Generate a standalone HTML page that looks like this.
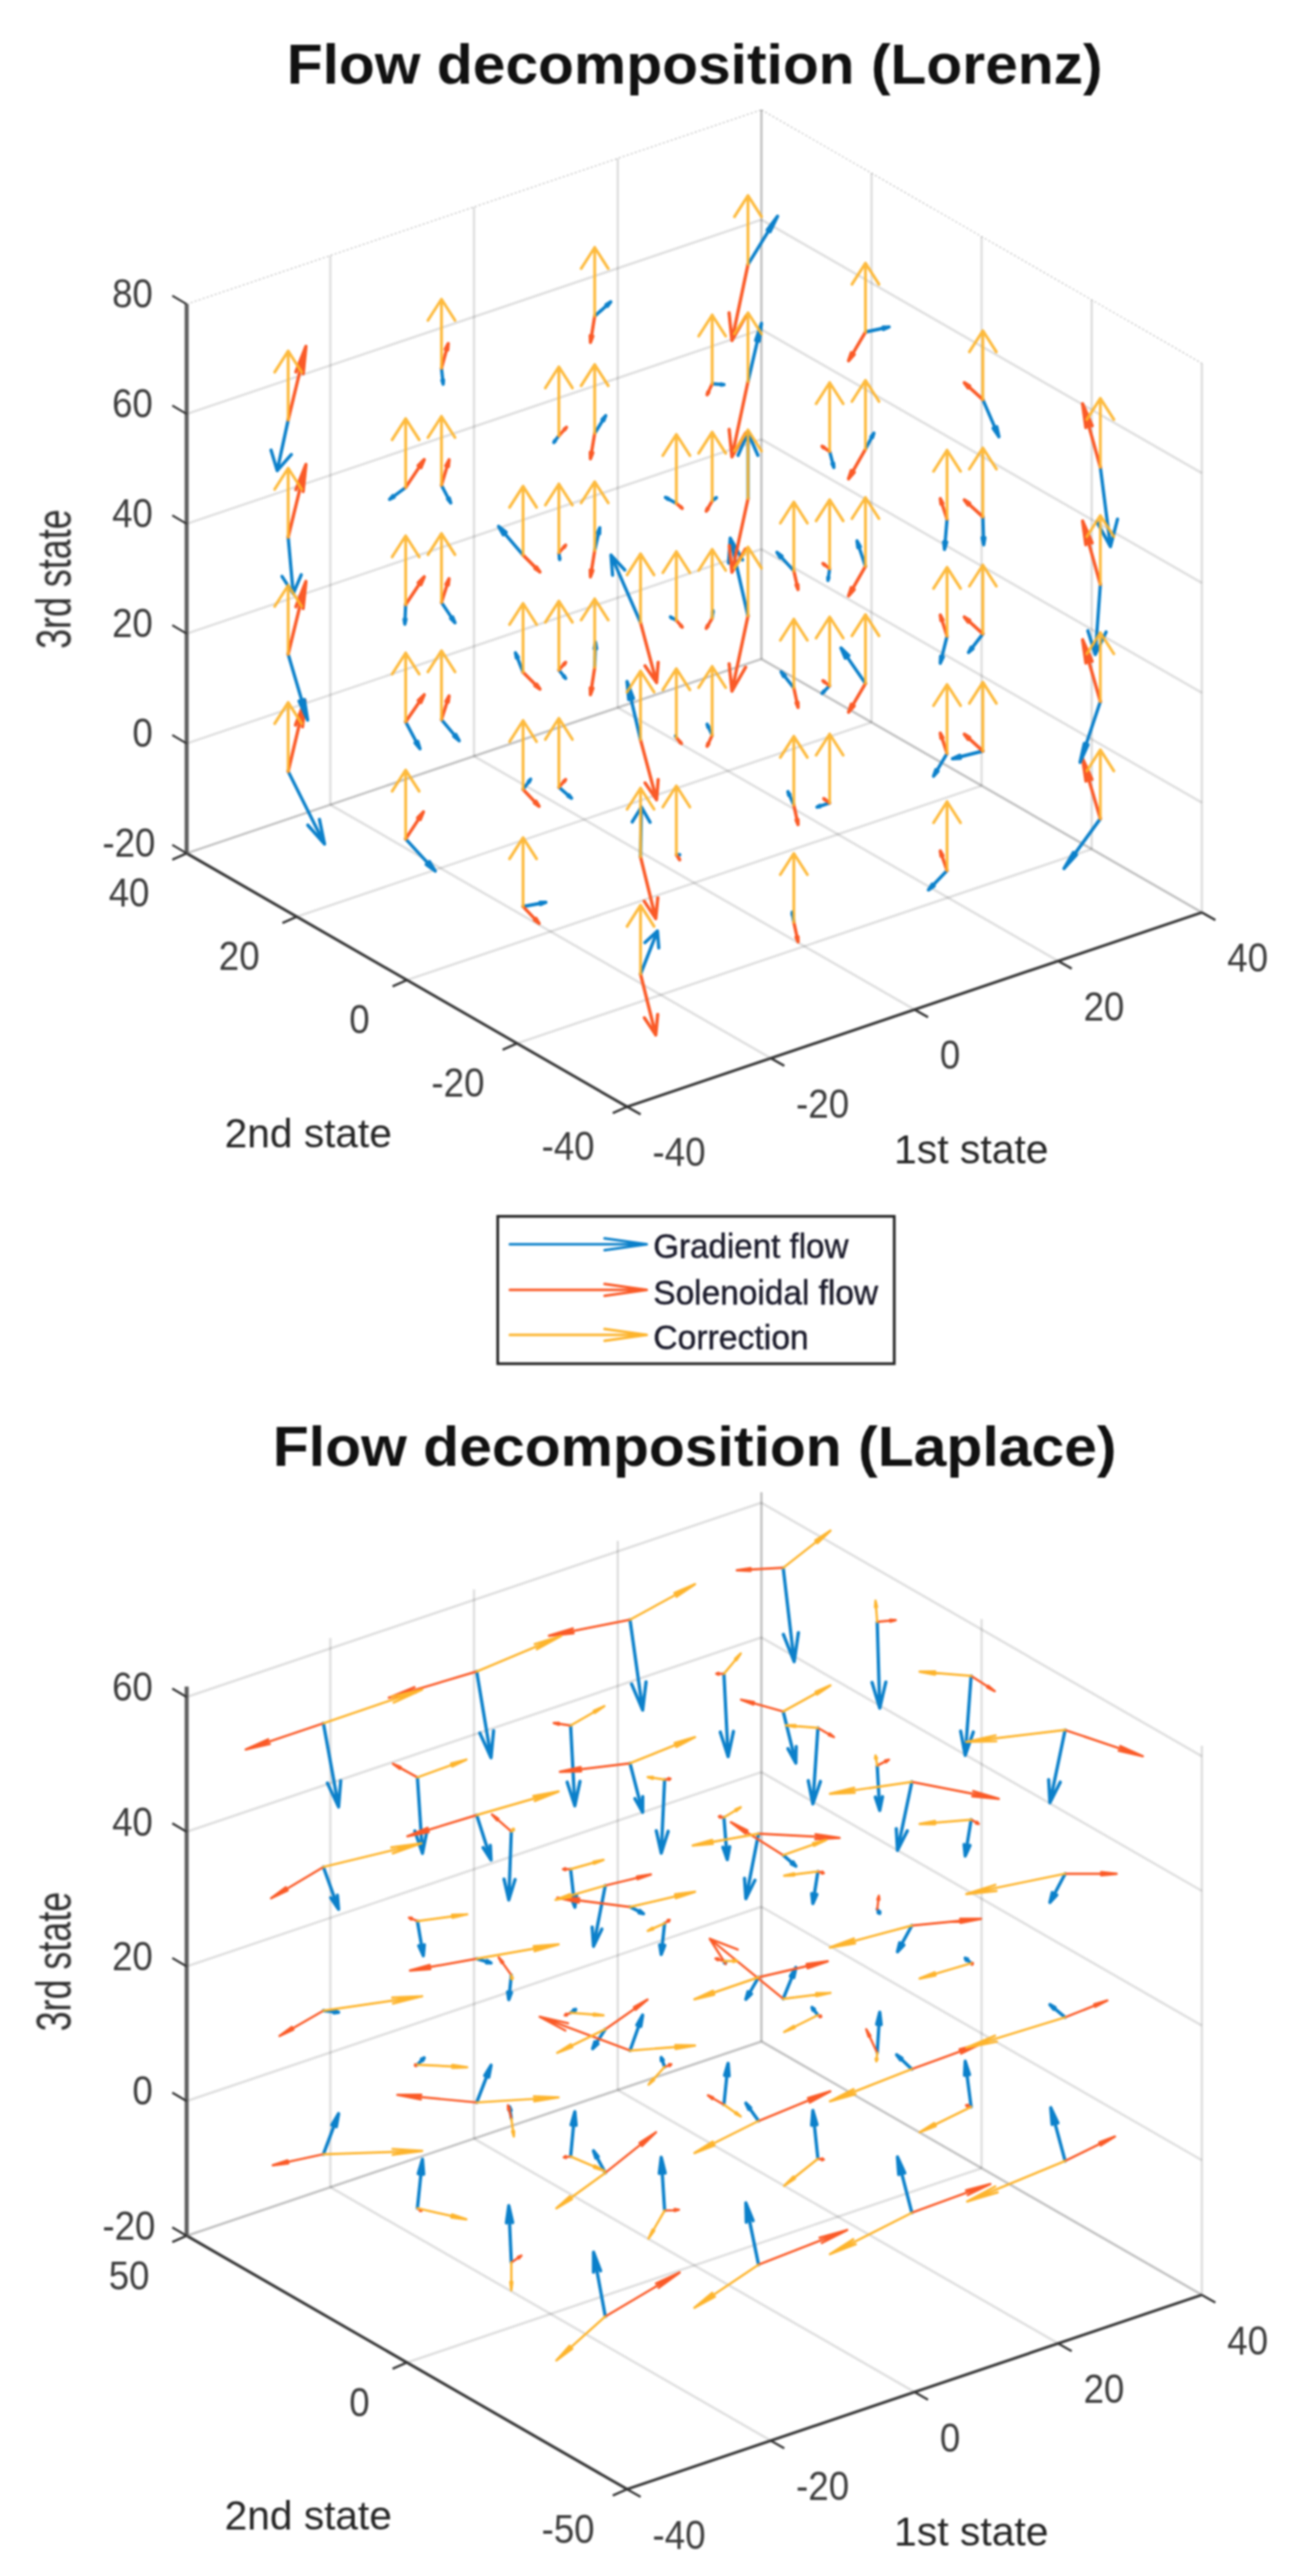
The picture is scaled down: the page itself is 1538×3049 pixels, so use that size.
<!DOCTYPE html><html><head><meta charset="utf-8"><title>Flow decomposition</title><style>html,body{margin:0;padding:0;background:#fff}svg{display:block}text{font-family:"Liberation Sans",Arial,sans-serif}</style></head><body>
<svg width="1538" height="3049" viewBox="0 0 1538 3049">
<rect width="1538" height="3049" fill="#fff"/>
<defs><filter id="soft" x="0" y="0" width="100%" height="100%" filterUnits="userSpaceOnUse" color-interpolation-filters="sRGB"><feGaussianBlur stdDeviation="0.9"/></filter></defs>
<g filter="url(#soft)">
<g id="plot1">
<line x1="742.5" y1="1310.0" x2="221.0" y2="1010.0" stroke="#000" stroke-width="2.8" stroke-opacity="0.13"/>
<line x1="912.6" y1="1252.5" x2="391.1" y2="952.5" stroke="#000" stroke-width="2.8" stroke-opacity="0.13"/>
<line x1="391.1" y1="952.5" x2="391.1" y2="302.5" stroke="#000" stroke-width="2.8" stroke-opacity="0.13"/>
<line x1="1082.8" y1="1195.0" x2="561.2" y2="895.0" stroke="#000" stroke-width="2.8" stroke-opacity="0.13"/>
<line x1="561.2" y1="895.0" x2="561.2" y2="245.0" stroke="#000" stroke-width="2.8" stroke-opacity="0.13"/>
<line x1="1252.9" y1="1137.5" x2="731.4" y2="837.5" stroke="#000" stroke-width="2.8" stroke-opacity="0.13"/>
<line x1="731.4" y1="837.5" x2="731.4" y2="187.5" stroke="#000" stroke-width="2.8" stroke-opacity="0.13"/>
<line x1="1423.0" y1="1080.0" x2="901.5" y2="780.0" stroke="#000" stroke-width="2.8" stroke-opacity="0.13"/>
<line x1="901.5" y1="780.0" x2="901.5" y2="130.0" stroke="#000" stroke-width="2.8" stroke-opacity="0.13"/>
<line x1="742.5" y1="1310.0" x2="1423.0" y2="1080.0" stroke="#000" stroke-width="2.8" stroke-opacity="0.13"/>
<line x1="1423.0" y1="1080.0" x2="1423.0" y2="430.0" stroke="#000" stroke-width="2.8" stroke-opacity="0.13"/>
<line x1="612.1" y1="1235.0" x2="1292.6" y2="1005.0" stroke="#000" stroke-width="2.8" stroke-opacity="0.13"/>
<line x1="1292.6" y1="1005.0" x2="1292.6" y2="355.0" stroke="#000" stroke-width="2.8" stroke-opacity="0.13"/>
<line x1="481.8" y1="1160.0" x2="1162.2" y2="930.0" stroke="#000" stroke-width="2.8" stroke-opacity="0.13"/>
<line x1="1162.2" y1="930.0" x2="1162.2" y2="280.0" stroke="#000" stroke-width="2.8" stroke-opacity="0.13"/>
<line x1="351.4" y1="1085.0" x2="1031.9" y2="855.0" stroke="#000" stroke-width="2.8" stroke-opacity="0.13"/>
<line x1="1031.9" y1="855.0" x2="1031.9" y2="205.0" stroke="#000" stroke-width="2.8" stroke-opacity="0.13"/>
<line x1="221.0" y1="1010.0" x2="901.5" y2="780.0" stroke="#000" stroke-width="2.8" stroke-opacity="0.13"/>
<line x1="901.5" y1="780.0" x2="901.5" y2="130.0" stroke="#000" stroke-width="2.8" stroke-opacity="0.13"/>
<line x1="221.0" y1="1010.0" x2="901.5" y2="780.0" stroke="#000" stroke-width="2.8" stroke-opacity="0.13"/>
<line x1="901.5" y1="780.0" x2="1423.0" y2="1080.0" stroke="#000" stroke-width="2.8" stroke-opacity="0.13"/>
<line x1="221.0" y1="880.0" x2="901.5" y2="650.0" stroke="#000" stroke-width="2.8" stroke-opacity="0.13"/>
<line x1="901.5" y1="650.0" x2="1423.0" y2="950.0" stroke="#000" stroke-width="2.8" stroke-opacity="0.13"/>
<line x1="221.0" y1="750.0" x2="901.5" y2="520.0" stroke="#000" stroke-width="2.8" stroke-opacity="0.13"/>
<line x1="901.5" y1="520.0" x2="1423.0" y2="820.0" stroke="#000" stroke-width="2.8" stroke-opacity="0.13"/>
<line x1="221.0" y1="620.0" x2="901.5" y2="390.0" stroke="#000" stroke-width="2.8" stroke-opacity="0.13"/>
<line x1="901.5" y1="390.0" x2="1423.0" y2="690.0" stroke="#000" stroke-width="2.8" stroke-opacity="0.13"/>
<line x1="221.0" y1="490.0" x2="901.5" y2="260.0" stroke="#000" stroke-width="2.8" stroke-opacity="0.13"/>
<line x1="901.5" y1="260.0" x2="1423.0" y2="560.0" stroke="#000" stroke-width="2.8" stroke-opacity="0.13"/>
<line x1="221.0" y1="360.0" x2="901.5" y2="130.0" stroke="#000" stroke-width="1.6" stroke-opacity="0.2" stroke-dasharray="2.5 2.5"/>
<line x1="901.5" y1="130.0" x2="1423.0" y2="430.0" stroke="#000" stroke-width="1.6" stroke-opacity="0.2" stroke-dasharray="2.5 2.5"/>
<polyline points="221.0,1010.0 742.5,1310.0 1423.0,1080.0" fill="none" stroke="#383838" stroke-width="3.3" stroke-linejoin="miter"/>
<line x1="221.0" y1="1011.0" x2="221.0" y2="360.0" stroke="#5e5e5e" stroke-width="4.8" />
<line x1="221.0" y1="1010.0" x2="204.0" y2="1000.0" stroke="#333" stroke-width="2.6" />
<text transform="translate(184.0,1014.4) scale(0.915,1)" font-size="47.5" text-anchor="end" fill="#3c3c3c">-20</text>
<line x1="221.0" y1="880.0" x2="204.0" y2="870.0" stroke="#333" stroke-width="2.6" />
<text transform="translate(181.0,884.4) scale(0.915,1)" font-size="47.5" text-anchor="end" fill="#3c3c3c">0</text>
<line x1="221.0" y1="750.0" x2="204.0" y2="740.0" stroke="#333" stroke-width="2.6" />
<text transform="translate(181.0,754.4) scale(0.915,1)" font-size="47.5" text-anchor="end" fill="#3c3c3c">20</text>
<line x1="221.0" y1="620.0" x2="204.0" y2="610.0" stroke="#333" stroke-width="2.6" />
<text transform="translate(181.0,624.4) scale(0.915,1)" font-size="47.5" text-anchor="end" fill="#3c3c3c">40</text>
<line x1="221.0" y1="490.0" x2="204.0" y2="480.0" stroke="#333" stroke-width="2.6" />
<text transform="translate(181.0,494.4) scale(0.915,1)" font-size="47.5" text-anchor="end" fill="#3c3c3c">60</text>
<line x1="221.0" y1="360.0" x2="204.0" y2="350.0" stroke="#333" stroke-width="2.6" />
<text transform="translate(181.0,364.4) scale(0.915,1)" font-size="47.5" text-anchor="end" fill="#3c3c3c">80</text>
<line x1="742.5" y1="1310.0" x2="725.5" y2="1317.5" stroke="#333" stroke-width="2.6" />
<text transform="translate(704.0,1373.3) scale(0.915,1)" font-size="47.5" text-anchor="end" fill="#3c3c3c">-40</text>
<line x1="612.1" y1="1235.0" x2="595.1" y2="1242.5" stroke="#333" stroke-width="2.6" />
<text transform="translate(573.6,1298.3) scale(0.915,1)" font-size="47.5" text-anchor="end" fill="#3c3c3c">-20</text>
<line x1="481.8" y1="1160.0" x2="464.8" y2="1167.5" stroke="#333" stroke-width="2.6" />
<text transform="translate(437.8,1223.3) scale(0.915,1)" font-size="47.5" text-anchor="end" fill="#3c3c3c">0</text>
<line x1="351.4" y1="1085.0" x2="334.4" y2="1092.5" stroke="#333" stroke-width="2.6" />
<text transform="translate(307.4,1148.3) scale(0.915,1)" font-size="47.5" text-anchor="end" fill="#3c3c3c">20</text>
<line x1="221.0" y1="1010.0" x2="204.0" y2="1017.5" stroke="#333" stroke-width="2.6" />
<text transform="translate(177.0,1073.3) scale(0.915,1)" font-size="47.5" text-anchor="end" fill="#3c3c3c">40</text>
<line x1="742.5" y1="1310.0" x2="758.5" y2="1319.0" stroke="#333" stroke-width="2.6" />
<text transform="translate(772.5,1380.3) scale(0.915,1)" font-size="47.5" text-anchor="start" fill="#3c3c3c">-40</text>
<line x1="912.6" y1="1252.5" x2="928.6" y2="1261.5" stroke="#333" stroke-width="2.6" />
<text transform="translate(942.6,1322.8) scale(0.915,1)" font-size="47.5" text-anchor="start" fill="#3c3c3c">-20</text>
<line x1="1082.8" y1="1195.0" x2="1098.8" y2="1204.0" stroke="#333" stroke-width="2.6" />
<text transform="translate(1112.8,1265.3) scale(0.915,1)" font-size="47.5" text-anchor="start" fill="#3c3c3c">0</text>
<line x1="1252.9" y1="1137.5" x2="1268.9" y2="1146.5" stroke="#333" stroke-width="2.6" />
<text transform="translate(1282.9,1207.8) scale(0.915,1)" font-size="47.5" text-anchor="start" fill="#3c3c3c">20</text>
<line x1="1423.0" y1="1080.0" x2="1439.0" y2="1089.0" stroke="#333" stroke-width="2.6" />
<text transform="translate(1453.0,1150.3) scale(0.915,1)" font-size="47.5" text-anchor="start" fill="#3c3c3c">40</text>
<text transform="translate(83.5,685.5) rotate(-90)" font-size="58" text-anchor="middle" fill="#2e2e2e" textLength="165" lengthAdjust="spacingAndGlyphs">3rd state</text>
<text x="266.0" y="1358.0" font-size="49" text-anchor="start" font-weight="normal" fill="#262626" textLength="198" lengthAdjust="spacingAndGlyphs">2nd state</text>
<text x="1058.5" y="1376.5" font-size="49" text-anchor="start" font-weight="normal" fill="#262626" textLength="183" lengthAdjust="spacingAndGlyphs">1st state</text>
<text x="822.5" y="98.8" font-size="67" text-anchor="middle" font-weight="bold" fill="#111" textLength="966" lengthAdjust="spacingAndGlyphs">Flow decomposition (Lorenz)</text>
<path d="M758.4 1153.0L778.4 1102.0M780.0 1122.0L778.4 1102.0L763.6 1115.6" stroke="#0b80ca" stroke-width="3.9" fill="none" stroke-linecap="round" stroke-linejoin="round" stroke-opacity="1"/>
<path d="M758.4 1153.0L776.4 1225.0M762.9 1204.7L776.4 1225.0L778.7 1200.7" stroke="#fa5a27" stroke-width="3.9" fill="none" stroke-linecap="round" stroke-linejoin="round" stroke-opacity="1"/>
<path d="M758.4 1014.3L759.4 955.3M769.7 973.2L759.4 955.3L748.5 972.9" stroke="#0b80ca" stroke-width="3.9" fill="none" stroke-linecap="round" stroke-linejoin="round" stroke-opacity="1"/>
<path d="M758.4 1014.3L776.4 1087.3M762.8 1066.7L776.4 1087.3L778.8 1062.7" stroke="#fa5a27" stroke-width="3.9" fill="none" stroke-linecap="round" stroke-linejoin="round" stroke-opacity="1"/>
<path d="M758.4 875.7L742.4 806.7M750.0 826.7L742.4 806.7L744.4 828.0" stroke="#0b80ca" stroke-width="3.9" fill="none" stroke-linecap="round" stroke-linejoin="round" stroke-opacity="1"/>
<path d="M758.4 875.7L777.4 946.7M763.7 926.7L777.4 946.7L779.3 922.6" stroke="#fa5a27" stroke-width="3.9" fill="none" stroke-linecap="round" stroke-linejoin="round" stroke-opacity="1"/>
<path d="M758.4 737.0L723.4 657.0M739.7 674.6L723.4 657.0L725.3 680.9" stroke="#0b80ca" stroke-width="3.9" fill="none" stroke-linecap="round" stroke-linejoin="round" stroke-opacity="1"/>
<path d="M758.4 737.0L777.4 808.0M763.7 788.1L777.4 808.0L779.3 783.9" stroke="#fa5a27" stroke-width="3.9" fill="none" stroke-linecap="round" stroke-linejoin="round" stroke-opacity="1"/>
<path d="M619.3 1073.0L646.3 1068.0M639.8 1070.6L646.3 1068.0L639.3 1067.9" stroke="#0b80ca" stroke-width="3.9" fill="none" stroke-linecap="round" stroke-linejoin="round" stroke-opacity="1"/>
<path d="M619.3 1073.0L638.3 1093.0M632.6 1089.0L638.3 1093.0L634.6 1087.0" stroke="#fa5a27" stroke-width="3.9" fill="none" stroke-linecap="round" stroke-linejoin="round" stroke-opacity="1"/>
<path d="M619.3 934.3L628.3 922.3M626.7 925.8L628.3 922.3L625.5 924.9" stroke="#0b80ca" stroke-width="3.9" fill="none" stroke-linecap="round" stroke-linejoin="round" stroke-opacity="1"/>
<path d="M619.3 934.3L638.3 954.3M632.6 950.3L638.3 954.3L634.6 948.4" stroke="#fa5a27" stroke-width="3.9" fill="none" stroke-linecap="round" stroke-linejoin="round" stroke-opacity="1"/>
<path d="M619.3 795.7L610.3 772.7M613.7 778.0L610.3 772.7L611.4 778.9" stroke="#0b80ca" stroke-width="3.9" fill="none" stroke-linecap="round" stroke-linejoin="round" stroke-opacity="1"/>
<path d="M619.3 795.7L639.3 815.7M633.3 811.7L639.3 815.7L635.3 809.7" stroke="#fa5a27" stroke-width="3.9" fill="none" stroke-linecap="round" stroke-linejoin="round" stroke-opacity="1"/>
<path d="M619.3 657.0L590.3 623.0M599.3 630.0L590.3 623.0L595.9 633.0" stroke="#0b80ca" stroke-width="3.9" fill="none" stroke-linecap="round" stroke-linejoin="round" stroke-opacity="1"/>
<path d="M619.3 657.0L639.3 677.0M633.3 673.0L639.3 677.0L635.3 671.0" stroke="#fa5a27" stroke-width="3.9" fill="none" stroke-linecap="round" stroke-linejoin="round" stroke-opacity="1"/>
<path d="M480.3 993.0L515.3 1031.0M504.6 1023.2L515.3 1031.0L508.4 1019.8" stroke="#0b80ca" stroke-width="3.9" fill="none" stroke-linecap="round" stroke-linejoin="round" stroke-opacity="1"/>
<path d="M480.3 993.0L501.3 961.0M497.6 970.0L501.3 961.0L494.4 968.0" stroke="#fa5a27" stroke-width="3.9" fill="none" stroke-linecap="round" stroke-linejoin="round" stroke-opacity="1"/>
<path d="M480.3 854.3L497.3 886.3M491.4 879.2L497.3 886.3L494.6 877.5" stroke="#0b80ca" stroke-width="3.9" fill="none" stroke-linecap="round" stroke-linejoin="round" stroke-opacity="1"/>
<path d="M480.3 854.3L502.3 822.3M498.4 831.4L502.3 822.3L495.2 829.2" stroke="#fa5a27" stroke-width="3.9" fill="none" stroke-linecap="round" stroke-linejoin="round" stroke-opacity="1"/>
<path d="M480.3 715.7L479.3 738.7M478.4 732.9L479.3 738.7L480.7 733.0" stroke="#0b80ca" stroke-width="3.9" fill="none" stroke-linecap="round" stroke-linejoin="round" stroke-opacity="1"/>
<path d="M480.3 715.7L502.3 682.7M498.4 692.0L502.3 682.7L495.1 689.8" stroke="#fa5a27" stroke-width="3.9" fill="none" stroke-linecap="round" stroke-linejoin="round" stroke-opacity="1"/>
<path d="M480.3 577.0L461.3 591.0M465.3 586.5L461.3 591.0L466.7 588.5" stroke="#0b80ca" stroke-width="3.9" fill="none" stroke-linecap="round" stroke-linejoin="round" stroke-opacity="1"/>
<path d="M480.3 577.0L502.3 544.0M498.4 553.4L502.3 544.0L495.1 551.1" stroke="#fa5a27" stroke-width="3.9" fill="none" stroke-linecap="round" stroke-linejoin="round" stroke-opacity="1"/>
<path d="M341.2 913.0L384.2 999.0M364.4 976.6L384.2 999.0L378.2 969.8" stroke="#0b80ca" stroke-width="3.9" fill="none" stroke-linecap="round" stroke-linejoin="round" stroke-opacity="1"/>
<path d="M341.2 913.0L361.2 829.0M358.2 860.2L361.2 829.0L349.8 858.2" stroke="#fa5a27" stroke-width="3.9" fill="none" stroke-linecap="round" stroke-linejoin="round" stroke-opacity="1"/>
<path d="M341.2 774.3L364.2 852.3M354.2 829.9L364.2 852.3L360.4 828.0" stroke="#0b80ca" stroke-width="3.9" fill="none" stroke-linecap="round" stroke-linejoin="round" stroke-opacity="1"/>
<path d="M341.2 774.3L362.2 688.3M358.9 720.3L362.2 688.3L350.3 718.2" stroke="#fa5a27" stroke-width="3.9" fill="none" stroke-linecap="round" stroke-linejoin="round" stroke-opacity="1"/>
<path d="M341.2 635.7L347.2 702.7M333.9 682.2L347.2 702.7L356.7 680.2" stroke="#0b80ca" stroke-width="3.9" fill="none" stroke-linecap="round" stroke-linejoin="round" stroke-opacity="1"/>
<path d="M341.2 635.7L362.2 549.7M358.9 581.7L362.2 549.7L350.3 579.6" stroke="#fa5a27" stroke-width="3.9" fill="none" stroke-linecap="round" stroke-linejoin="round" stroke-opacity="1"/>
<path d="M341.2 497.0L328.2 557.0M320.9 532.8L328.2 557.0L344.9 538.0" stroke="#0b80ca" stroke-width="3.9" fill="none" stroke-linecap="round" stroke-linejoin="round" stroke-opacity="1"/>
<path d="M341.2 497.0L362.2 410.0M359.0 442.4L362.2 410.0L350.3 440.3" stroke="#fa5a27" stroke-width="3.9" fill="none" stroke-linecap="round" stroke-linejoin="round" stroke-opacity="1"/>
<path d="M939.9 1091.7L937.9 1079.7M939.0 1082.6L937.9 1079.7L937.8 1082.8" stroke="#0b80ca" stroke-width="3.9" fill="none" stroke-linecap="round" stroke-linejoin="round" stroke-opacity="1"/>
<path d="M939.9 1091.7L944.9 1114.7M942.5 1109.2L944.9 1114.7L944.8 1108.7" stroke="#fa5a27" stroke-width="3.9" fill="none" stroke-linecap="round" stroke-linejoin="round" stroke-opacity="1"/>
<path d="M939.9 953.0L932.9 937.0M935.4 940.7L932.9 937.0L933.8 941.4" stroke="#0b80ca" stroke-width="3.9" fill="none" stroke-linecap="round" stroke-linejoin="round" stroke-opacity="1"/>
<path d="M939.9 953.0L944.9 976.0M942.5 970.5L944.9 976.0L944.8 970.0" stroke="#fa5a27" stroke-width="3.9" fill="none" stroke-linecap="round" stroke-linejoin="round" stroke-opacity="1"/>
<path d="M939.9 814.3L924.9 795.3M929.6 799.3L924.9 795.3L927.7 800.8" stroke="#0b80ca" stroke-width="3.9" fill="none" stroke-linecap="round" stroke-linejoin="round" stroke-opacity="1"/>
<path d="M939.9 814.3L944.9 837.3M942.5 831.8L944.9 837.3L944.8 831.3" stroke="#fa5a27" stroke-width="3.9" fill="none" stroke-linecap="round" stroke-linejoin="round" stroke-opacity="1"/>
<path d="M939.9 675.7L919.9 653.7M926.0 658.2L919.9 653.7L923.8 660.2" stroke="#0b80ca" stroke-width="3.9" fill="none" stroke-linecap="round" stroke-linejoin="round" stroke-opacity="1"/>
<path d="M939.9 675.7L944.9 697.7M942.5 692.4L944.9 697.7L944.7 691.9" stroke="#fa5a27" stroke-width="3.9" fill="none" stroke-linecap="round" stroke-linejoin="round" stroke-opacity="1"/>
<path d="M800.8 1011.7L804.8 1011.7M803.8 1011.9L804.8 1011.7L803.8 1011.5" stroke="#0b80ca" stroke-width="3.9" fill="none" stroke-linecap="round" stroke-linejoin="round" stroke-opacity="1"/>
<path d="M800.8 1011.7L804.8 1017.7M803.5 1016.4L804.8 1017.7L804.1 1016.0" stroke="#fa5a27" stroke-width="3.9" fill="none" stroke-linecap="round" stroke-linejoin="round" stroke-opacity="1"/>
<path d="M800.8 873.0L799.8 871.0M800.1 871.5L799.8 871.0L799.9 871.6" stroke="#0b80ca" stroke-width="3.9" fill="none" stroke-linecap="round" stroke-linejoin="round" stroke-opacity="1"/>
<path d="M800.8 873.0L806.8 880.0M804.9 878.6L806.8 880.0L805.6 878.0" stroke="#fa5a27" stroke-width="3.9" fill="none" stroke-linecap="round" stroke-linejoin="round" stroke-opacity="1"/>
<path d="M800.8 734.3L793.8 730.3M795.8 731.0L793.8 730.3L795.3 731.7" stroke="#0b80ca" stroke-width="3.9" fill="none" stroke-linecap="round" stroke-linejoin="round" stroke-opacity="1"/>
<path d="M800.8 734.3L807.8 742.3M805.6 740.7L807.8 742.3L806.4 740.0" stroke="#fa5a27" stroke-width="3.9" fill="none" stroke-linecap="round" stroke-linejoin="round" stroke-opacity="1"/>
<path d="M800.8 595.7L787.8 588.7M791.4 589.8L787.8 588.7L790.7 591.1" stroke="#0b80ca" stroke-width="3.9" fill="none" stroke-linecap="round" stroke-linejoin="round" stroke-opacity="1"/>
<path d="M800.8 595.7L807.8 601.7M805.8 600.5L807.8 601.7L806.3 599.8" stroke="#fa5a27" stroke-width="3.9" fill="none" stroke-linecap="round" stroke-linejoin="round" stroke-opacity="1"/>
<path d="M661.7 931.7L676.7 944.7M672.3 942.2L676.7 944.7L673.6 940.7" stroke="#0b80ca" stroke-width="3.9" fill="none" stroke-linecap="round" stroke-linejoin="round" stroke-opacity="1"/>
<path d="M661.7 931.7L669.7 922.7M668.2 925.3L669.7 922.7L667.3 924.5" stroke="#fa5a27" stroke-width="3.9" fill="none" stroke-linecap="round" stroke-linejoin="round" stroke-opacity="1"/>
<path d="M661.7 793.0L669.7 803.0M667.2 800.9L669.7 803.0L668.2 800.1" stroke="#0b80ca" stroke-width="3.9" fill="none" stroke-linecap="round" stroke-linejoin="round" stroke-opacity="1"/>
<path d="M661.7 793.0L669.7 784.0M668.2 786.7L669.7 784.0L667.3 785.9" stroke="#fa5a27" stroke-width="3.9" fill="none" stroke-linecap="round" stroke-linejoin="round" stroke-opacity="1"/>
<path d="M661.7 654.3L662.7 662.3M662.1 660.4L662.7 662.3L662.9 660.3" stroke="#0b80ca" stroke-width="3.9" fill="none" stroke-linecap="round" stroke-linejoin="round" stroke-opacity="1"/>
<path d="M661.7 654.3L669.7 645.3M668.2 648.0L669.7 645.3L667.3 647.2" stroke="#fa5a27" stroke-width="3.9" fill="none" stroke-linecap="round" stroke-linejoin="round" stroke-opacity="1"/>
<path d="M661.7 515.7L655.7 523.7M656.8 521.4L655.7 523.7L657.6 522.0" stroke="#0b80ca" stroke-width="3.9" fill="none" stroke-linecap="round" stroke-linejoin="round" stroke-opacity="1"/>
<path d="M661.7 515.7L670.7 505.7M669.0 508.6L670.7 505.7L668.0 507.7" stroke="#fa5a27" stroke-width="3.9" fill="none" stroke-linecap="round" stroke-linejoin="round" stroke-opacity="1"/>
<path d="M522.7 851.7L543.7 876.7M537.2 871.5L543.7 876.7L539.7 869.4" stroke="#0b80ca" stroke-width="3.9" fill="none" stroke-linecap="round" stroke-linejoin="round" stroke-opacity="1"/>
<path d="M522.7 851.7L531.7 823.7M530.8 831.1L531.7 823.7L528.0 830.2" stroke="#fa5a27" stroke-width="3.9" fill="none" stroke-linecap="round" stroke-linejoin="round" stroke-opacity="1"/>
<path d="M522.7 713.0L538.7 737.0M533.5 731.8L538.7 737.0L535.9 730.2" stroke="#0b80ca" stroke-width="3.9" fill="none" stroke-linecap="round" stroke-linejoin="round" stroke-opacity="1"/>
<path d="M522.7 713.0L531.7 685.0M530.8 692.5L531.7 685.0L528.0 691.6" stroke="#fa5a27" stroke-width="3.9" fill="none" stroke-linecap="round" stroke-linejoin="round" stroke-opacity="1"/>
<path d="M522.7 574.3L533.7 595.3M529.9 590.6L533.7 595.3L532.0 589.5" stroke="#0b80ca" stroke-width="3.9" fill="none" stroke-linecap="round" stroke-linejoin="round" stroke-opacity="1"/>
<path d="M522.7 574.3L531.7 544.3M530.9 552.3L531.7 544.3L527.9 551.4" stroke="#fa5a27" stroke-width="3.9" fill="none" stroke-linecap="round" stroke-linejoin="round" stroke-opacity="1"/>
<path d="M522.7 435.7L524.7 454.7M523.2 450.0L524.7 454.7L525.1 449.8" stroke="#0b80ca" stroke-width="3.9" fill="none" stroke-linecap="round" stroke-linejoin="round" stroke-opacity="1"/>
<path d="M522.7 435.7L530.7 406.7M530.1 414.3L530.7 406.7L527.2 413.5" stroke="#fa5a27" stroke-width="3.9" fill="none" stroke-linecap="round" stroke-linejoin="round" stroke-opacity="1"/>
<path d="M1121.3 1030.3L1099.3 1053.3M1103.7 1046.5L1099.3 1053.3L1106.0 1048.7" stroke="#0b80ca" stroke-width="3.9" fill="none" stroke-linecap="round" stroke-linejoin="round" stroke-opacity="1"/>
<path d="M1121.3 1030.3L1113.3 1007.3M1116.5 1012.7L1113.3 1007.3L1114.2 1013.5" stroke="#fa5a27" stroke-width="3.9" fill="none" stroke-linecap="round" stroke-linejoin="round" stroke-opacity="1"/>
<path d="M1121.3 891.7L1105.3 918.7M1108.0 911.1L1105.3 918.7L1110.7 912.7" stroke="#0b80ca" stroke-width="3.9" fill="none" stroke-linecap="round" stroke-linejoin="round" stroke-opacity="1"/>
<path d="M1121.3 891.7L1113.3 867.7M1116.5 873.3L1113.3 867.7L1114.1 874.1" stroke="#fa5a27" stroke-width="3.9" fill="none" stroke-linecap="round" stroke-linejoin="round" stroke-opacity="1"/>
<path d="M1121.3 753.0L1113.3 785.0M1113.7 776.6L1113.3 785.0L1116.9 777.4" stroke="#0b80ca" stroke-width="3.9" fill="none" stroke-linecap="round" stroke-linejoin="round" stroke-opacity="1"/>
<path d="M1121.3 753.0L1113.3 728.0M1116.6 733.9L1113.3 728.0L1114.1 734.6" stroke="#fa5a27" stroke-width="3.9" fill="none" stroke-linecap="round" stroke-linejoin="round" stroke-opacity="1"/>
<path d="M1121.3 614.3L1118.3 650.3M1117.3 641.2L1118.3 650.3L1120.9 641.5" stroke="#0b80ca" stroke-width="3.9" fill="none" stroke-linecap="round" stroke-linejoin="round" stroke-opacity="1"/>
<path d="M1121.3 614.3L1113.3 590.3M1116.5 595.9L1113.3 590.3L1114.1 596.7" stroke="#fa5a27" stroke-width="3.9" fill="none" stroke-linecap="round" stroke-linejoin="round" stroke-opacity="1"/>
<path d="M982.3 950.3L967.3 955.3M970.8 953.3L967.3 955.3L971.3 954.8" stroke="#0b80ca" stroke-width="3.9" fill="none" stroke-linecap="round" stroke-linejoin="round" stroke-opacity="1"/>
<path d="M982.3 950.3L975.3 945.3M977.3 946.2L975.3 945.3L976.8 946.9" stroke="#fa5a27" stroke-width="3.9" fill="none" stroke-linecap="round" stroke-linejoin="round" stroke-opacity="1"/>
<path d="M982.3 811.7L973.3 820.7M975.1 818.0L973.3 820.7L976.0 818.9" stroke="#0b80ca" stroke-width="3.9" fill="none" stroke-linecap="round" stroke-linejoin="round" stroke-opacity="1"/>
<path d="M982.3 811.7L974.3 805.7M976.6 806.8L974.3 805.7L976.0 807.6" stroke="#fa5a27" stroke-width="3.9" fill="none" stroke-linecap="round" stroke-linejoin="round" stroke-opacity="1"/>
<path d="M982.3 673.0L980.3 687.0M980.1 683.4L980.3 687.0L981.5 683.6" stroke="#0b80ca" stroke-width="3.9" fill="none" stroke-linecap="round" stroke-linejoin="round" stroke-opacity="1"/>
<path d="M982.3 673.0L974.3 667.0M976.6 668.1L974.3 667.0L976.0 668.9" stroke="#fa5a27" stroke-width="3.9" fill="none" stroke-linecap="round" stroke-linejoin="round" stroke-opacity="1"/>
<path d="M982.3 534.3L987.3 553.3M985.1 548.8L987.3 553.3L987.0 548.3" stroke="#0b80ca" stroke-width="3.9" fill="none" stroke-linecap="round" stroke-linejoin="round" stroke-opacity="1"/>
<path d="M982.3 534.3L973.3 528.3M975.8 529.4L973.3 528.3L975.2 530.3" stroke="#fa5a27" stroke-width="3.9" fill="none" stroke-linecap="round" stroke-linejoin="round" stroke-opacity="1"/>
<path d="M843.2 870.3L837.2 857.3M839.4 860.3L837.2 857.3L838.1 860.9" stroke="#0b80ca" stroke-width="3.9" fill="none" stroke-linecap="round" stroke-linejoin="round" stroke-opacity="1"/>
<path d="M843.2 870.3L837.2 883.3M838.1 879.8L837.2 883.3L839.4 880.4" stroke="#fa5a27" stroke-width="3.9" fill="none" stroke-linecap="round" stroke-linejoin="round" stroke-opacity="1"/>
<path d="M843.2 731.7L844.2 722.7M844.4 725.0L844.2 722.7L843.5 724.9" stroke="#0b80ca" stroke-width="3.9" fill="none" stroke-linecap="round" stroke-linejoin="round" stroke-opacity="1"/>
<path d="M843.2 731.7L836.2 743.7M837.4 740.3L836.2 743.7L838.6 741.0" stroke="#fa5a27" stroke-width="3.9" fill="none" stroke-linecap="round" stroke-linejoin="round" stroke-opacity="1"/>
<path d="M843.2 593.0L848.2 589.0M847.2 590.2L848.2 589.0L846.8 589.8" stroke="#0b80ca" stroke-width="3.9" fill="none" stroke-linecap="round" stroke-linejoin="round" stroke-opacity="1"/>
<path d="M843.2 593.0L836.2 605.0M837.4 601.6L836.2 605.0L838.6 602.4" stroke="#fa5a27" stroke-width="3.9" fill="none" stroke-linecap="round" stroke-linejoin="round" stroke-opacity="1"/>
<path d="M843.2 454.3L857.2 455.3M853.7 455.8L857.2 455.3L853.8 454.4" stroke="#0b80ca" stroke-width="3.9" fill="none" stroke-linecap="round" stroke-linejoin="round" stroke-opacity="1"/>
<path d="M843.2 454.3L837.2 467.3M838.1 463.8L837.2 467.3L839.4 464.4" stroke="#fa5a27" stroke-width="3.9" fill="none" stroke-linecap="round" stroke-linejoin="round" stroke-opacity="1"/>
<path d="M704.1 790.3L705.1 760.3M706.4 767.9L705.1 760.3L703.4 767.8" stroke="#0b80ca" stroke-width="3.9" fill="none" stroke-linecap="round" stroke-linejoin="round" stroke-opacity="1"/>
<path d="M704.1 790.3L699.1 822.3M698.8 814.1L699.1 822.3L702.0 814.6" stroke="#fa5a27" stroke-width="3.9" fill="none" stroke-linecap="round" stroke-linejoin="round" stroke-opacity="1"/>
<path d="M704.1 651.7L710.1 624.7M710.0 631.7L710.1 624.7L707.3 631.1" stroke="#0b80ca" stroke-width="3.9" fill="none" stroke-linecap="round" stroke-linejoin="round" stroke-opacity="1"/>
<path d="M704.1 651.7L699.1 682.7M698.8 674.7L699.1 682.7L701.9 675.2" stroke="#fa5a27" stroke-width="3.9" fill="none" stroke-linecap="round" stroke-linejoin="round" stroke-opacity="1"/>
<path d="M704.1 513.0L717.1 492.0M714.9 497.9L717.1 492.0L712.8 496.6" stroke="#0b80ca" stroke-width="3.9" fill="none" stroke-linecap="round" stroke-linejoin="round" stroke-opacity="1"/>
<path d="M704.1 513.0L699.1 543.0M698.9 535.2L699.1 543.0L701.9 535.8" stroke="#fa5a27" stroke-width="3.9" fill="none" stroke-linecap="round" stroke-linejoin="round" stroke-opacity="1"/>
<path d="M704.1 374.3L723.1 357.3M719.2 362.5L723.1 357.3L717.5 360.6" stroke="#0b80ca" stroke-width="3.9" fill="none" stroke-linecap="round" stroke-linejoin="round" stroke-opacity="1"/>
<path d="M704.1 374.3L699.1 405.3M698.8 397.3L699.1 405.3L701.9 397.8" stroke="#fa5a27" stroke-width="3.9" fill="none" stroke-linecap="round" stroke-linejoin="round" stroke-opacity="1"/>
<path d="M1302.8 969.0L1259.8 1028.0M1270.9 1009.0L1259.8 1028.0L1274.5 1011.6" stroke="#0b80ca" stroke-width="3.9" fill="none" stroke-linecap="round" stroke-linejoin="round" stroke-opacity="1"/>
<path d="M1302.8 969.0L1281.8 898.0M1292.9 922.5L1281.8 898.0L1285.8 924.6" stroke="#fa5a27" stroke-width="3.9" fill="none" stroke-linecap="round" stroke-linejoin="round" stroke-opacity="1"/>
<path d="M1302.8 830.3L1278.8 902.3M1283.8 880.0L1278.8 902.3L1288.2 881.5" stroke="#0b80ca" stroke-width="3.9" fill="none" stroke-linecap="round" stroke-linejoin="round" stroke-opacity="1"/>
<path d="M1302.8 830.3L1281.8 757.3M1293.0 782.6L1281.8 757.3L1285.7 784.7" stroke="#fa5a27" stroke-width="3.9" fill="none" stroke-linecap="round" stroke-linejoin="round" stroke-opacity="1"/>
<path d="M1302.8 691.7L1296.8 774.7M1288.0 746.5L1296.8 774.7L1309.6 748.1" stroke="#0b80ca" stroke-width="3.9" fill="none" stroke-linecap="round" stroke-linejoin="round" stroke-opacity="1"/>
<path d="M1302.8 691.7L1281.8 616.7M1293.1 642.6L1281.8 616.7L1285.6 644.7" stroke="#fa5a27" stroke-width="3.9" fill="none" stroke-linecap="round" stroke-linejoin="round" stroke-opacity="1"/>
<path d="M1302.8 553.0L1314.8 647.0M1298.6 617.5L1314.8 647.0L1323.1 614.4" stroke="#0b80ca" stroke-width="3.9" fill="none" stroke-linecap="round" stroke-linejoin="round" stroke-opacity="1"/>
<path d="M1302.8 553.0L1281.8 478.0M1293.1 503.9L1281.8 478.0L1285.6 506.1" stroke="#fa5a27" stroke-width="3.9" fill="none" stroke-linecap="round" stroke-linejoin="round" stroke-opacity="1"/>
<path d="M1163.7 889.0L1127.7 898.0M1136.3 894.0L1127.7 898.0L1137.2 897.5" stroke="#0b80ca" stroke-width="3.9" fill="none" stroke-linecap="round" stroke-linejoin="round" stroke-opacity="1"/>
<path d="M1163.7 889.0L1141.7 869.0M1148.2 872.9L1141.7 869.0L1146.2 875.1" stroke="#fa5a27" stroke-width="3.9" fill="none" stroke-linecap="round" stroke-linejoin="round" stroke-opacity="1"/>
<path d="M1163.7 750.3L1146.7 772.3M1149.9 766.0L1146.7 772.3L1152.1 767.7" stroke="#0b80ca" stroke-width="3.9" fill="none" stroke-linecap="round" stroke-linejoin="round" stroke-opacity="1"/>
<path d="M1163.7 750.3L1141.7 730.3M1148.2 734.2L1141.7 730.3L1146.2 736.4" stroke="#fa5a27" stroke-width="3.9" fill="none" stroke-linecap="round" stroke-linejoin="round" stroke-opacity="1"/>
<path d="M1163.7 611.7L1164.7 644.7M1162.8 636.5L1164.7 644.7L1166.1 636.4" stroke="#0b80ca" stroke-width="3.9" fill="none" stroke-linecap="round" stroke-linejoin="round" stroke-opacity="1"/>
<path d="M1163.7 611.7L1141.7 591.7M1148.2 595.6L1141.7 591.7L1146.2 597.8" stroke="#fa5a27" stroke-width="3.9" fill="none" stroke-linecap="round" stroke-linejoin="round" stroke-opacity="1"/>
<path d="M1163.7 473.0L1182.7 517.0M1175.8 506.9L1182.7 517.0L1180.2 505.1" stroke="#0b80ca" stroke-width="3.9" fill="none" stroke-linecap="round" stroke-linejoin="round" stroke-opacity="1"/>
<path d="M1163.7 473.0L1141.7 453.0M1148.2 456.9L1141.7 453.0L1146.2 459.1" stroke="#fa5a27" stroke-width="3.9" fill="none" stroke-linecap="round" stroke-linejoin="round" stroke-opacity="1"/>
<path d="M1024.7 809.0L995.7 767.0M1005.0 776.0L995.7 767.0L1000.8 779.0" stroke="#0b80ca" stroke-width="3.9" fill="none" stroke-linecap="round" stroke-linejoin="round" stroke-opacity="1"/>
<path d="M1024.7 809.0L1004.7 843.0M1008.0 833.5L1004.7 843.0L1011.4 835.5" stroke="#fa5a27" stroke-width="3.9" fill="none" stroke-linecap="round" stroke-linejoin="round" stroke-opacity="1"/>
<path d="M1024.7 670.3L1014.7 640.3M1018.7 647.3L1014.7 640.3L1015.7 648.3" stroke="#0b80ca" stroke-width="3.9" fill="none" stroke-linecap="round" stroke-linejoin="round" stroke-opacity="1"/>
<path d="M1024.7 670.3L1004.7 705.3M1007.9 695.6L1004.7 705.3L1011.4 697.6" stroke="#fa5a27" stroke-width="3.9" fill="none" stroke-linecap="round" stroke-linejoin="round" stroke-opacity="1"/>
<path d="M1024.7 531.7L1034.7 512.7M1033.1 517.9L1034.7 512.7L1031.2 516.9" stroke="#0b80ca" stroke-width="3.9" fill="none" stroke-linecap="round" stroke-linejoin="round" stroke-opacity="1"/>
<path d="M1024.7 531.7L1004.7 566.7M1007.9 556.9L1004.7 566.7L1011.4 558.9" stroke="#fa5a27" stroke-width="3.9" fill="none" stroke-linecap="round" stroke-linejoin="round" stroke-opacity="1"/>
<path d="M1024.7 393.0L1052.7 387.0M1046.0 389.9L1052.7 387.0L1045.4 387.1" stroke="#0b80ca" stroke-width="3.9" fill="none" stroke-linecap="round" stroke-linejoin="round" stroke-opacity="1"/>
<path d="M1024.7 393.0L1004.7 427.0M1008.0 417.5L1004.7 427.0L1011.4 419.5" stroke="#fa5a27" stroke-width="3.9" fill="none" stroke-linecap="round" stroke-linejoin="round" stroke-opacity="1"/>
<path d="M885.6 729.0L864.6 637.0M879.2 662.7L864.6 637.0L862.6 666.5" stroke="#0b80ca" stroke-width="3.9" fill="none" stroke-linecap="round" stroke-linejoin="round" stroke-opacity="1"/>
<path d="M885.6 729.0L866.6 818.0M863.3 785.6L866.6 818.0L882.8 789.8" stroke="#fa5a27" stroke-width="3.9" fill="none" stroke-linecap="round" stroke-linejoin="round" stroke-opacity="1"/>
<path d="M885.6 590.3L885.6 512.3M897.3 538.9L885.6 512.3L873.9 538.9" stroke="#0b80ca" stroke-width="3.9" fill="none" stroke-linecap="round" stroke-linejoin="round" stroke-opacity="1"/>
<path d="M885.6 590.3L866.6 677.3M863.5 645.7L866.6 677.3L882.6 649.8" stroke="#fa5a27" stroke-width="3.9" fill="none" stroke-linecap="round" stroke-linejoin="round" stroke-opacity="1"/>
<path d="M885.6 451.7L901.6 382.7M898.9 403.8L901.6 382.7L894.7 402.9" stroke="#0b80ca" stroke-width="3.9" fill="none" stroke-linecap="round" stroke-linejoin="round" stroke-opacity="1"/>
<path d="M885.6 451.7L866.6 540.7M863.3 508.3L866.6 540.7L882.8 512.5" stroke="#fa5a27" stroke-width="3.9" fill="none" stroke-linecap="round" stroke-linejoin="round" stroke-opacity="1"/>
<path d="M885.6 313.0L920.6 256.0M911.8 274.2L920.6 256.0L908.4 272.1" stroke="#0b80ca" stroke-width="3.9" fill="none" stroke-linecap="round" stroke-linejoin="round" stroke-opacity="1"/>
<path d="M885.6 313.0L866.6 403.0M863.2 370.3L866.6 403.0L883.0 374.5" stroke="#fa5a27" stroke-width="3.9" fill="none" stroke-linecap="round" stroke-linejoin="round" stroke-opacity="1"/>
<path d="M758.4 1153.0L758.4 1071.5M774.4 1096.5L758.4 1071.5L742.4 1096.5" stroke="#fdb42c" stroke-width="3.4" fill="none" stroke-linecap="round" stroke-linejoin="round" stroke-opacity="0.92"/>
<path d="M758.4 1014.3L758.4 932.8M774.4 957.8L758.4 932.8L742.4 957.8" stroke="#fdb42c" stroke-width="3.4" fill="none" stroke-linecap="round" stroke-linejoin="round" stroke-opacity="0.92"/>
<path d="M758.4 875.7L758.4 794.2M774.4 819.2L758.4 794.2L742.4 819.2" stroke="#fdb42c" stroke-width="3.4" fill="none" stroke-linecap="round" stroke-linejoin="round" stroke-opacity="0.92"/>
<path d="M758.4 737.0L758.4 655.5M774.4 680.5L758.4 655.5L742.4 680.5" stroke="#fdb42c" stroke-width="3.4" fill="none" stroke-linecap="round" stroke-linejoin="round" stroke-opacity="0.92"/>
<path d="M619.3 1073.0L619.3 991.5M635.3 1016.5L619.3 991.5L603.3 1016.5" stroke="#fdb42c" stroke-width="3.4" fill="none" stroke-linecap="round" stroke-linejoin="round" stroke-opacity="0.92"/>
<path d="M619.3 934.3L619.3 852.8M635.3 877.8L619.3 852.8L603.3 877.8" stroke="#fdb42c" stroke-width="3.4" fill="none" stroke-linecap="round" stroke-linejoin="round" stroke-opacity="0.92"/>
<path d="M619.3 795.7L619.3 714.2M635.3 739.2L619.3 714.2L603.3 739.2" stroke="#fdb42c" stroke-width="3.4" fill="none" stroke-linecap="round" stroke-linejoin="round" stroke-opacity="0.92"/>
<path d="M619.3 657.0L619.3 575.5M635.3 600.5L619.3 575.5L603.3 600.5" stroke="#fdb42c" stroke-width="3.4" fill="none" stroke-linecap="round" stroke-linejoin="round" stroke-opacity="0.92"/>
<path d="M480.3 993.0L480.3 911.5M496.3 936.5L480.3 911.5L464.3 936.5" stroke="#fdb42c" stroke-width="3.4" fill="none" stroke-linecap="round" stroke-linejoin="round" stroke-opacity="0.92"/>
<path d="M480.3 854.3L480.3 772.8M496.3 797.8L480.3 772.8L464.3 797.8" stroke="#fdb42c" stroke-width="3.4" fill="none" stroke-linecap="round" stroke-linejoin="round" stroke-opacity="0.92"/>
<path d="M480.3 715.7L480.3 634.2M496.3 659.2L480.3 634.2L464.3 659.2" stroke="#fdb42c" stroke-width="3.4" fill="none" stroke-linecap="round" stroke-linejoin="round" stroke-opacity="0.92"/>
<path d="M480.3 577.0L480.3 495.5M496.3 520.5L480.3 495.5L464.3 520.5" stroke="#fdb42c" stroke-width="3.4" fill="none" stroke-linecap="round" stroke-linejoin="round" stroke-opacity="0.92"/>
<path d="M341.2 913.0L341.2 831.5M357.2 856.5L341.2 831.5L325.2 856.5" stroke="#fdb42c" stroke-width="3.4" fill="none" stroke-linecap="round" stroke-linejoin="round" stroke-opacity="0.92"/>
<path d="M341.2 774.3L341.2 692.8M357.2 717.8L341.2 692.8L325.2 717.8" stroke="#fdb42c" stroke-width="3.4" fill="none" stroke-linecap="round" stroke-linejoin="round" stroke-opacity="0.92"/>
<path d="M341.2 635.7L341.2 554.2M357.2 579.2L341.2 554.2L325.2 579.2" stroke="#fdb42c" stroke-width="3.4" fill="none" stroke-linecap="round" stroke-linejoin="round" stroke-opacity="0.92"/>
<path d="M341.2 497.0L341.2 415.5M357.2 440.5L341.2 415.5L325.2 440.5" stroke="#fdb42c" stroke-width="3.4" fill="none" stroke-linecap="round" stroke-linejoin="round" stroke-opacity="0.92"/>
<path d="M939.9 1091.7L939.9 1010.2M955.9 1035.2L939.9 1010.2L923.9 1035.2" stroke="#fdb42c" stroke-width="3.4" fill="none" stroke-linecap="round" stroke-linejoin="round" stroke-opacity="0.92"/>
<path d="M939.9 953.0L939.9 871.5M955.9 896.5L939.9 871.5L923.9 896.5" stroke="#fdb42c" stroke-width="3.4" fill="none" stroke-linecap="round" stroke-linejoin="round" stroke-opacity="0.92"/>
<path d="M939.9 814.3L939.9 732.8M955.9 757.8L939.9 732.8L923.9 757.8" stroke="#fdb42c" stroke-width="3.4" fill="none" stroke-linecap="round" stroke-linejoin="round" stroke-opacity="0.92"/>
<path d="M939.9 675.7L939.9 594.2M955.9 619.2L939.9 594.2L923.9 619.2" stroke="#fdb42c" stroke-width="3.4" fill="none" stroke-linecap="round" stroke-linejoin="round" stroke-opacity="0.92"/>
<path d="M800.8 1011.7L800.8 930.2M816.8 955.2L800.8 930.2L784.8 955.2" stroke="#fdb42c" stroke-width="3.4" fill="none" stroke-linecap="round" stroke-linejoin="round" stroke-opacity="0.92"/>
<path d="M800.8 873.0L800.8 791.5M816.8 816.5L800.8 791.5L784.8 816.5" stroke="#fdb42c" stroke-width="3.4" fill="none" stroke-linecap="round" stroke-linejoin="round" stroke-opacity="0.92"/>
<path d="M800.8 734.3L800.8 652.8M816.8 677.8L800.8 652.8L784.8 677.8" stroke="#fdb42c" stroke-width="3.4" fill="none" stroke-linecap="round" stroke-linejoin="round" stroke-opacity="0.92"/>
<path d="M800.8 595.7L800.8 514.2M816.8 539.2L800.8 514.2L784.8 539.2" stroke="#fdb42c" stroke-width="3.4" fill="none" stroke-linecap="round" stroke-linejoin="round" stroke-opacity="0.92"/>
<path d="M661.7 931.7L661.7 850.2M677.7 875.2L661.7 850.2L645.7 875.2" stroke="#fdb42c" stroke-width="3.4" fill="none" stroke-linecap="round" stroke-linejoin="round" stroke-opacity="0.92"/>
<path d="M661.7 793.0L661.7 711.5M677.7 736.5L661.7 711.5L645.7 736.5" stroke="#fdb42c" stroke-width="3.4" fill="none" stroke-linecap="round" stroke-linejoin="round" stroke-opacity="0.92"/>
<path d="M661.7 654.3L661.7 572.8M677.7 597.8L661.7 572.8L645.7 597.8" stroke="#fdb42c" stroke-width="3.4" fill="none" stroke-linecap="round" stroke-linejoin="round" stroke-opacity="0.92"/>
<path d="M661.7 515.7L661.7 434.2M677.7 459.2L661.7 434.2L645.7 459.2" stroke="#fdb42c" stroke-width="3.4" fill="none" stroke-linecap="round" stroke-linejoin="round" stroke-opacity="0.92"/>
<path d="M522.7 851.7L522.7 770.2M538.7 795.2L522.7 770.2L506.7 795.2" stroke="#fdb42c" stroke-width="3.4" fill="none" stroke-linecap="round" stroke-linejoin="round" stroke-opacity="0.92"/>
<path d="M522.7 713.0L522.7 631.5M538.7 656.5L522.7 631.5L506.7 656.5" stroke="#fdb42c" stroke-width="3.4" fill="none" stroke-linecap="round" stroke-linejoin="round" stroke-opacity="0.92"/>
<path d="M522.7 574.3L522.7 492.8M538.7 517.8L522.7 492.8L506.7 517.8" stroke="#fdb42c" stroke-width="3.4" fill="none" stroke-linecap="round" stroke-linejoin="round" stroke-opacity="0.92"/>
<path d="M522.7 435.7L522.7 354.2M538.7 379.2L522.7 354.2L506.7 379.2" stroke="#fdb42c" stroke-width="3.4" fill="none" stroke-linecap="round" stroke-linejoin="round" stroke-opacity="0.92"/>
<path d="M1121.3 1030.3L1121.3 948.8M1137.3 973.8L1121.3 948.8L1105.3 973.8" stroke="#fdb42c" stroke-width="3.4" fill="none" stroke-linecap="round" stroke-linejoin="round" stroke-opacity="0.92"/>
<path d="M1121.3 891.7L1121.3 810.2M1137.3 835.2L1121.3 810.2L1105.3 835.2" stroke="#fdb42c" stroke-width="3.4" fill="none" stroke-linecap="round" stroke-linejoin="round" stroke-opacity="0.92"/>
<path d="M1121.3 753.0L1121.3 671.5M1137.3 696.5L1121.3 671.5L1105.3 696.5" stroke="#fdb42c" stroke-width="3.4" fill="none" stroke-linecap="round" stroke-linejoin="round" stroke-opacity="0.92"/>
<path d="M1121.3 614.3L1121.3 532.8M1137.3 557.8L1121.3 532.8L1105.3 557.8" stroke="#fdb42c" stroke-width="3.4" fill="none" stroke-linecap="round" stroke-linejoin="round" stroke-opacity="0.92"/>
<path d="M982.3 950.3L982.3 868.8M998.3 893.8L982.3 868.8L966.3 893.8" stroke="#fdb42c" stroke-width="3.4" fill="none" stroke-linecap="round" stroke-linejoin="round" stroke-opacity="0.92"/>
<path d="M982.3 811.7L982.3 730.2M998.3 755.2L982.3 730.2L966.3 755.2" stroke="#fdb42c" stroke-width="3.4" fill="none" stroke-linecap="round" stroke-linejoin="round" stroke-opacity="0.92"/>
<path d="M982.3 673.0L982.3 591.5M998.3 616.5L982.3 591.5L966.3 616.5" stroke="#fdb42c" stroke-width="3.4" fill="none" stroke-linecap="round" stroke-linejoin="round" stroke-opacity="0.92"/>
<path d="M982.3 534.3L982.3 452.8M998.3 477.8L982.3 452.8L966.3 477.8" stroke="#fdb42c" stroke-width="3.4" fill="none" stroke-linecap="round" stroke-linejoin="round" stroke-opacity="0.92"/>
<path d="M843.2 870.3L843.2 788.8M859.2 813.8L843.2 788.8L827.2 813.8" stroke="#fdb42c" stroke-width="3.4" fill="none" stroke-linecap="round" stroke-linejoin="round" stroke-opacity="0.92"/>
<path d="M843.2 731.7L843.2 650.2M859.2 675.2L843.2 650.2L827.2 675.2" stroke="#fdb42c" stroke-width="3.4" fill="none" stroke-linecap="round" stroke-linejoin="round" stroke-opacity="0.92"/>
<path d="M843.2 593.0L843.2 511.5M859.2 536.5L843.2 511.5L827.2 536.5" stroke="#fdb42c" stroke-width="3.4" fill="none" stroke-linecap="round" stroke-linejoin="round" stroke-opacity="0.92"/>
<path d="M843.2 454.3L843.2 372.8M859.2 397.8L843.2 372.8L827.2 397.8" stroke="#fdb42c" stroke-width="3.4" fill="none" stroke-linecap="round" stroke-linejoin="round" stroke-opacity="0.92"/>
<path d="M704.1 790.3L704.1 708.8M720.1 733.8L704.1 708.8L688.1 733.8" stroke="#fdb42c" stroke-width="3.4" fill="none" stroke-linecap="round" stroke-linejoin="round" stroke-opacity="0.92"/>
<path d="M704.1 651.7L704.1 570.2M720.1 595.2L704.1 570.2L688.1 595.2" stroke="#fdb42c" stroke-width="3.4" fill="none" stroke-linecap="round" stroke-linejoin="round" stroke-opacity="0.92"/>
<path d="M704.1 513.0L704.1 431.5M720.1 456.5L704.1 431.5L688.1 456.5" stroke="#fdb42c" stroke-width="3.4" fill="none" stroke-linecap="round" stroke-linejoin="round" stroke-opacity="0.92"/>
<path d="M704.1 374.3L704.1 292.8M720.1 317.8L704.1 292.8L688.1 317.8" stroke="#fdb42c" stroke-width="3.4" fill="none" stroke-linecap="round" stroke-linejoin="round" stroke-opacity="0.92"/>
<path d="M1302.8 969.0L1302.8 887.5M1318.8 912.5L1302.8 887.5L1286.8 912.5" stroke="#fdb42c" stroke-width="3.4" fill="none" stroke-linecap="round" stroke-linejoin="round" stroke-opacity="0.92"/>
<path d="M1302.8 830.3L1302.8 748.8M1318.8 773.8L1302.8 748.8L1286.8 773.8" stroke="#fdb42c" stroke-width="3.4" fill="none" stroke-linecap="round" stroke-linejoin="round" stroke-opacity="0.92"/>
<path d="M1302.8 691.7L1302.8 610.2M1318.8 635.2L1302.8 610.2L1286.8 635.2" stroke="#fdb42c" stroke-width="3.4" fill="none" stroke-linecap="round" stroke-linejoin="round" stroke-opacity="0.92"/>
<path d="M1302.8 553.0L1302.8 471.5M1318.8 496.5L1302.8 471.5L1286.8 496.5" stroke="#fdb42c" stroke-width="3.4" fill="none" stroke-linecap="round" stroke-linejoin="round" stroke-opacity="0.92"/>
<path d="M1163.7 889.0L1163.7 807.5M1179.7 832.5L1163.7 807.5L1147.7 832.5" stroke="#fdb42c" stroke-width="3.4" fill="none" stroke-linecap="round" stroke-linejoin="round" stroke-opacity="0.92"/>
<path d="M1163.7 750.3L1163.7 668.8M1179.7 693.8L1163.7 668.8L1147.7 693.8" stroke="#fdb42c" stroke-width="3.4" fill="none" stroke-linecap="round" stroke-linejoin="round" stroke-opacity="0.92"/>
<path d="M1163.7 611.7L1163.7 530.2M1179.7 555.2L1163.7 530.2L1147.7 555.2" stroke="#fdb42c" stroke-width="3.4" fill="none" stroke-linecap="round" stroke-linejoin="round" stroke-opacity="0.92"/>
<path d="M1163.7 473.0L1163.7 391.5M1179.7 416.5L1163.7 391.5L1147.7 416.5" stroke="#fdb42c" stroke-width="3.4" fill="none" stroke-linecap="round" stroke-linejoin="round" stroke-opacity="0.92"/>
<path d="M1024.7 809.0L1024.7 727.5M1040.7 752.5L1024.7 727.5L1008.7 752.5" stroke="#fdb42c" stroke-width="3.4" fill="none" stroke-linecap="round" stroke-linejoin="round" stroke-opacity="0.92"/>
<path d="M1024.7 670.3L1024.7 588.8M1040.7 613.8L1024.7 588.8L1008.7 613.8" stroke="#fdb42c" stroke-width="3.4" fill="none" stroke-linecap="round" stroke-linejoin="round" stroke-opacity="0.92"/>
<path d="M1024.7 531.7L1024.7 450.2M1040.7 475.2L1024.7 450.2L1008.7 475.2" stroke="#fdb42c" stroke-width="3.4" fill="none" stroke-linecap="round" stroke-linejoin="round" stroke-opacity="0.92"/>
<path d="M1024.7 393.0L1024.7 311.5M1040.7 336.5L1024.7 311.5L1008.7 336.5" stroke="#fdb42c" stroke-width="3.4" fill="none" stroke-linecap="round" stroke-linejoin="round" stroke-opacity="0.92"/>
<path d="M885.6 729.0L885.6 647.5M901.6 672.5L885.6 647.5L869.6 672.5" stroke="#fdb42c" stroke-width="3.4" fill="none" stroke-linecap="round" stroke-linejoin="round" stroke-opacity="0.92"/>
<path d="M885.6 590.3L885.6 508.8M901.6 533.8L885.6 508.8L869.6 533.8" stroke="#fdb42c" stroke-width="3.4" fill="none" stroke-linecap="round" stroke-linejoin="round" stroke-opacity="0.92"/>
<path d="M885.6 451.7L885.6 370.2M901.6 395.2L885.6 370.2L869.6 395.2" stroke="#fdb42c" stroke-width="3.4" fill="none" stroke-linecap="round" stroke-linejoin="round" stroke-opacity="0.92"/>
<path d="M885.6 313.0L885.6 231.5M901.6 256.5L885.6 231.5L869.6 256.5" stroke="#fdb42c" stroke-width="3.4" fill="none" stroke-linecap="round" stroke-linejoin="round" stroke-opacity="0.92"/>
</g>
<g id="legend">
<rect x="589.3" y="1439.7" width="469.5" height="174.4" fill="#fff" stroke="#222" stroke-width="3.2"/>
<path d="M603.6 1472.8L765.8 1472.8M715.8 1479.8L765.8 1472.8L715.8 1465.8" stroke="#0b80ca" stroke-width="3.0" fill="none" stroke-linecap="round" stroke-linejoin="round" stroke-opacity="1"/>
<text x="773.5" y="1488.6" font-size="40" text-anchor="start" font-weight="normal" fill="#1a1a2a" textLength="231" lengthAdjust="spacingAndGlyphs" stroke="#1a1a2a" stroke-width="0.5">Gradient flow</text>
<path d="M603.6 1526.8L765.8 1526.8M715.8 1533.8L765.8 1526.8L715.8 1519.8" stroke="#fa5a27" stroke-width="3.0" fill="none" stroke-linecap="round" stroke-linejoin="round" stroke-opacity="1"/>
<text x="773.5" y="1543.5" font-size="40" text-anchor="start" font-weight="normal" fill="#1a1a2a" textLength="266" lengthAdjust="spacingAndGlyphs" stroke="#1a1a2a" stroke-width="0.5">Solenoidal flow</text>
<path d="M603.6 1580.0L765.8 1580.0M715.8 1587.0L765.8 1580.0L715.8 1573.0" stroke="#fdb42c" stroke-width="3.0" fill="none" stroke-linecap="round" stroke-linejoin="round" stroke-opacity="1"/>
<text x="773.5" y="1596.7" font-size="40" text-anchor="start" font-weight="normal" fill="#1a1a2a" textLength="184" lengthAdjust="spacingAndGlyphs" stroke="#1a1a2a" stroke-width="0.5">Correction</text>
</g>
<g id="plot2">
<line x1="742.5" y1="2946.3" x2="221.0" y2="2646.3" stroke="#000" stroke-width="2.8" stroke-opacity="0.13"/>
<line x1="912.6" y1="2888.8" x2="391.1" y2="2588.8" stroke="#000" stroke-width="2.8" stroke-opacity="0.13"/>
<line x1="391.1" y1="2588.8" x2="391.1" y2="1938.8" stroke="#000" stroke-width="2.8" stroke-opacity="0.13"/>
<line x1="1082.8" y1="2831.3" x2="561.2" y2="2531.3" stroke="#000" stroke-width="2.8" stroke-opacity="0.13"/>
<line x1="561.2" y1="2531.3" x2="561.2" y2="1881.3" stroke="#000" stroke-width="2.8" stroke-opacity="0.13"/>
<line x1="1252.9" y1="2773.8" x2="731.4" y2="2473.8" stroke="#000" stroke-width="2.8" stroke-opacity="0.13"/>
<line x1="731.4" y1="2473.8" x2="731.4" y2="1823.8" stroke="#000" stroke-width="2.8" stroke-opacity="0.13"/>
<line x1="1423.0" y1="2716.3" x2="901.5" y2="2416.3" stroke="#000" stroke-width="2.8" stroke-opacity="0.13"/>
<line x1="901.5" y1="2416.3" x2="901.5" y2="1766.3" stroke="#000" stroke-width="2.8" stroke-opacity="0.13"/>
<line x1="742.5" y1="2946.3" x2="1423.0" y2="2716.3" stroke="#000" stroke-width="2.8" stroke-opacity="0.13"/>
<line x1="1423.0" y1="2716.3" x2="1423.0" y2="2066.3" stroke="#000" stroke-width="2.8" stroke-opacity="0.13"/>
<line x1="481.8" y1="2796.3" x2="1162.2" y2="2566.3" stroke="#000" stroke-width="2.8" stroke-opacity="0.13"/>
<line x1="1162.2" y1="2566.3" x2="1162.2" y2="1916.3" stroke="#000" stroke-width="2.8" stroke-opacity="0.13"/>
<line x1="221.0" y1="2646.3" x2="901.5" y2="2416.3" stroke="#000" stroke-width="2.8" stroke-opacity="0.13"/>
<line x1="901.5" y1="2416.3" x2="901.5" y2="1766.3" stroke="#000" stroke-width="2.8" stroke-opacity="0.13"/>
<line x1="221.0" y1="2646.3" x2="901.5" y2="2416.3" stroke="#000" stroke-width="2.8" stroke-opacity="0.13"/>
<line x1="901.5" y1="2416.3" x2="1423.0" y2="2716.3" stroke="#000" stroke-width="2.8" stroke-opacity="0.13"/>
<line x1="221.0" y1="2486.9" x2="901.5" y2="2256.9" stroke="#000" stroke-width="2.8" stroke-opacity="0.13"/>
<line x1="901.5" y1="2256.9" x2="1423.0" y2="2556.9" stroke="#000" stroke-width="2.8" stroke-opacity="0.13"/>
<line x1="221.0" y1="2327.5" x2="901.5" y2="2097.5" stroke="#000" stroke-width="2.8" stroke-opacity="0.13"/>
<line x1="901.5" y1="2097.5" x2="1423.0" y2="2397.5" stroke="#000" stroke-width="2.8" stroke-opacity="0.13"/>
<line x1="221.0" y1="2168.1" x2="901.5" y2="1938.1" stroke="#000" stroke-width="2.8" stroke-opacity="0.13"/>
<line x1="901.5" y1="1938.1" x2="1423.0" y2="2238.1" stroke="#000" stroke-width="2.8" stroke-opacity="0.13"/>
<line x1="221.0" y1="2008.7" x2="901.5" y2="1778.7" stroke="#000" stroke-width="2.8" stroke-opacity="0.13"/>
<line x1="901.5" y1="1778.7" x2="1423.0" y2="2078.7" stroke="#000" stroke-width="2.8" stroke-opacity="0.13"/>
<polyline points="221.0,2646.3 742.5,2946.3 1423.0,2716.3" fill="none" stroke="#383838" stroke-width="3.3" stroke-linejoin="miter"/>
<line x1="221.0" y1="2647.3" x2="221.0" y2="1996.3" stroke="#5e5e5e" stroke-width="4.8" />
<line x1="221.0" y1="2646.3" x2="204.0" y2="2636.3" stroke="#333" stroke-width="2.6" />
<text transform="translate(184.0,2650.7) scale(0.915,1)" font-size="47.5" text-anchor="end" fill="#3c3c3c">-20</text>
<line x1="221.0" y1="2486.9" x2="204.0" y2="2476.9" stroke="#333" stroke-width="2.6" />
<text transform="translate(181.0,2491.3) scale(0.915,1)" font-size="47.5" text-anchor="end" fill="#3c3c3c">0</text>
<line x1="221.0" y1="2327.5" x2="204.0" y2="2317.5" stroke="#333" stroke-width="2.6" />
<text transform="translate(181.0,2331.9) scale(0.915,1)" font-size="47.5" text-anchor="end" fill="#3c3c3c">20</text>
<line x1="221.0" y1="2168.1" x2="204.0" y2="2158.1" stroke="#333" stroke-width="2.6" />
<text transform="translate(181.0,2172.5) scale(0.915,1)" font-size="47.5" text-anchor="end" fill="#3c3c3c">40</text>
<line x1="221.0" y1="2008.7" x2="204.0" y2="1998.7" stroke="#333" stroke-width="2.6" />
<text transform="translate(181.0,2013.1) scale(0.915,1)" font-size="47.5" text-anchor="end" fill="#3c3c3c">60</text>
<line x1="742.5" y1="2946.3" x2="725.5" y2="2953.8" stroke="#333" stroke-width="2.6" />
<text transform="translate(704.0,3009.6) scale(0.915,1)" font-size="47.5" text-anchor="end" fill="#3c3c3c">-50</text>
<line x1="481.8" y1="2796.3" x2="464.8" y2="2803.8" stroke="#333" stroke-width="2.6" />
<text transform="translate(437.8,2859.6) scale(0.915,1)" font-size="47.5" text-anchor="end" fill="#3c3c3c">0</text>
<line x1="221.0" y1="2646.3" x2="204.0" y2="2653.8" stroke="#333" stroke-width="2.6" />
<text transform="translate(177.0,2709.6) scale(0.915,1)" font-size="47.5" text-anchor="end" fill="#3c3c3c">50</text>
<line x1="742.5" y1="2946.3" x2="758.5" y2="2955.3" stroke="#333" stroke-width="2.6" />
<text transform="translate(772.5,3016.6) scale(0.915,1)" font-size="47.5" text-anchor="start" fill="#3c3c3c">-40</text>
<line x1="912.6" y1="2888.8" x2="928.6" y2="2897.8" stroke="#333" stroke-width="2.6" />
<text transform="translate(942.6,2959.1) scale(0.915,1)" font-size="47.5" text-anchor="start" fill="#3c3c3c">-20</text>
<line x1="1082.8" y1="2831.3" x2="1098.8" y2="2840.3" stroke="#333" stroke-width="2.6" />
<text transform="translate(1112.8,2901.6) scale(0.915,1)" font-size="47.5" text-anchor="start" fill="#3c3c3c">0</text>
<line x1="1252.9" y1="2773.8" x2="1268.9" y2="2782.8" stroke="#333" stroke-width="2.6" />
<text transform="translate(1282.9,2844.1) scale(0.915,1)" font-size="47.5" text-anchor="start" fill="#3c3c3c">20</text>
<line x1="1423.0" y1="2716.3" x2="1439.0" y2="2725.3" stroke="#333" stroke-width="2.6" />
<text transform="translate(1453.0,2786.6) scale(0.915,1)" font-size="47.5" text-anchor="start" fill="#3c3c3c">40</text>
<text transform="translate(83.5,2321.8) rotate(-90)" font-size="58" text-anchor="middle" fill="#2e2e2e" textLength="165" lengthAdjust="spacingAndGlyphs">3rd state</text>
<text x="266.0" y="2994.3" font-size="49" text-anchor="start" font-weight="normal" fill="#262626" textLength="198" lengthAdjust="spacingAndGlyphs">2nd state</text>
<text x="1058.5" y="3012.8" font-size="49" text-anchor="start" font-weight="normal" fill="#262626" textLength="183" lengthAdjust="spacingAndGlyphs">1st state</text>
<text x="822.5" y="1735.1" font-size="67" text-anchor="middle" font-weight="bold" fill="#111" textLength="999" lengthAdjust="spacingAndGlyphs">Flow decomposition (Laplace)</text>
<path d="M382.9 2039.7L400.9 2138.7M387.6 2110.5L400.9 2138.7L403.4 2107.6" stroke="#0b80ca" stroke-width="3.9" fill="none" stroke-linecap="round" stroke-linejoin="round" stroke-opacity="1"/>
<path d="M382.9 2209.8L400.9 2259.8M391.5 2246.2L400.9 2259.8L399.5 2243.3" stroke="#0b80ca" stroke-width="3.9" fill="none" stroke-linecap="round" stroke-linejoin="round" stroke-opacity="1"/>
<path d="M382.9 2379.8L400.9 2381.8M395.4 2382.6L400.9 2381.8L395.7 2379.7" stroke="#0b80ca" stroke-width="3.9" fill="none" stroke-linecap="round" stroke-linejoin="round" stroke-opacity="1"/>
<path d="M382.9 2549.8L400.9 2501.8M398.2 2517.2L400.9 2501.8L392.9 2515.2" stroke="#0b80ca" stroke-width="3.9" fill="none" stroke-linecap="round" stroke-linejoin="round" stroke-opacity="1"/>
<path d="M494.2 2103.7L500.2 2193.7M491.2 2167.2L500.2 2193.7L505.6 2166.3" stroke="#0b80ca" stroke-width="3.9" fill="none" stroke-linecap="round" stroke-linejoin="round" stroke-opacity="1"/>
<path d="M494.2 2273.8L501.2 2314.8M495.8 2303.0L501.2 2314.8L502.4 2301.9" stroke="#0b80ca" stroke-width="3.9" fill="none" stroke-linecap="round" stroke-linejoin="round" stroke-opacity="1"/>
<path d="M494.2 2443.8L502.2 2435.8M500.6 2439.0L502.2 2435.8L498.9 2437.3" stroke="#0b80ca" stroke-width="3.9" fill="none" stroke-linecap="round" stroke-linejoin="round" stroke-opacity="1"/>
<path d="M494.2 2613.8L500.2 2555.8M501.6 2573.5L500.2 2555.8L495.2 2572.9" stroke="#0b80ca" stroke-width="3.9" fill="none" stroke-linecap="round" stroke-linejoin="round" stroke-opacity="1"/>
<path d="M605.4 2167.7L602.4 2248.7M596.8 2224.2L602.4 2248.7L609.8 2224.7" stroke="#0b80ca" stroke-width="3.9" fill="none" stroke-linecap="round" stroke-linejoin="round" stroke-opacity="1"/>
<path d="M605.4 2337.8L602.4 2366.8M601.0 2357.8L602.4 2366.8L605.6 2358.3" stroke="#0b80ca" stroke-width="3.9" fill="none" stroke-linecap="round" stroke-linejoin="round" stroke-opacity="1"/>
<path d="M605.4 2507.8L603.4 2493.8M605.2 2497.8L603.4 2493.8L602.8 2498.1" stroke="#0b80ca" stroke-width="3.9" fill="none" stroke-linecap="round" stroke-linejoin="round" stroke-opacity="1"/>
<path d="M605.4 2677.8L602.4 2610.8M607.0 2630.7L602.4 2610.8L599.6 2631.1" stroke="#0b80ca" stroke-width="3.9" fill="none" stroke-linecap="round" stroke-linejoin="round" stroke-opacity="1"/>
<path d="M716.7 2231.7L702.7 2303.7M701.1 2281.0L702.7 2303.7L712.6 2283.3" stroke="#0b80ca" stroke-width="3.9" fill="none" stroke-linecap="round" stroke-linejoin="round" stroke-opacity="1"/>
<path d="M716.7 2401.8L701.7 2424.8M704.3 2416.7L701.7 2424.8L708.0 2419.1" stroke="#0b80ca" stroke-width="3.9" fill="none" stroke-linecap="round" stroke-linejoin="round" stroke-opacity="1"/>
<path d="M716.7 2571.8L702.7 2545.8M708.3 2552.8L702.7 2545.8L705.5 2554.3" stroke="#0b80ca" stroke-width="3.9" fill="none" stroke-linecap="round" stroke-linejoin="round" stroke-opacity="1"/>
<path d="M716.7 2741.8L702.7 2665.8M711.1 2687.8L702.7 2665.8L702.7 2689.4" stroke="#0b80ca" stroke-width="3.9" fill="none" stroke-linecap="round" stroke-linejoin="round" stroke-opacity="1"/>
<path d="M564.4 1978.4L581.4 2080.4M568.1 2051.2L581.4 2080.4L584.4 2048.4" stroke="#0b80ca" stroke-width="3.9" fill="none" stroke-linecap="round" stroke-linejoin="round" stroke-opacity="1"/>
<path d="M564.4 2148.4L581.4 2201.4M572.0 2186.9L581.4 2201.4L580.5 2184.2" stroke="#0b80ca" stroke-width="3.9" fill="none" stroke-linecap="round" stroke-linejoin="round" stroke-opacity="1"/>
<path d="M564.4 2318.4L581.4 2323.4M575.9 2323.3L581.4 2323.4L576.7 2320.6" stroke="#0b80ca" stroke-width="3.9" fill="none" stroke-linecap="round" stroke-linejoin="round" stroke-opacity="1"/>
<path d="M564.4 2488.5L581.4 2444.5M578.7 2458.6L581.4 2444.5L573.9 2456.7" stroke="#0b80ca" stroke-width="3.9" fill="none" stroke-linecap="round" stroke-linejoin="round" stroke-opacity="1"/>
<path d="M675.6 2042.4L680.6 2137.4M671.5 2109.3L680.6 2137.4L686.7 2108.5" stroke="#0b80ca" stroke-width="3.9" fill="none" stroke-linecap="round" stroke-linejoin="round" stroke-opacity="1"/>
<path d="M675.6 2212.4L680.6 2257.4M675.5 2244.3L680.6 2257.4L682.7 2243.5" stroke="#0b80ca" stroke-width="3.9" fill="none" stroke-linecap="round" stroke-linejoin="round" stroke-opacity="1"/>
<path d="M675.6 2382.4L681.6 2378.4M680.5 2380.6L681.6 2378.4L679.2 2378.6" stroke="#0b80ca" stroke-width="3.9" fill="none" stroke-linecap="round" stroke-linejoin="round" stroke-opacity="1"/>
<path d="M675.6 2552.5L680.6 2499.5M682.1 2515.6L680.6 2499.5L676.2 2515.1" stroke="#0b80ca" stroke-width="3.9" fill="none" stroke-linecap="round" stroke-linejoin="round" stroke-opacity="1"/>
<path d="M786.9 2106.4L782.9 2193.4M777.1 2167.0L782.9 2193.4L791.1 2167.6" stroke="#0b80ca" stroke-width="3.9" fill="none" stroke-linecap="round" stroke-linejoin="round" stroke-opacity="1"/>
<path d="M786.9 2276.4L782.9 2313.4M781.1 2302.0L782.9 2313.4L787.1 2302.6" stroke="#0b80ca" stroke-width="3.9" fill="none" stroke-linecap="round" stroke-linejoin="round" stroke-opacity="1"/>
<path d="M786.9 2446.4L782.9 2435.4M785.2 2438.3L782.9 2435.4L783.0 2439.1" stroke="#0b80ca" stroke-width="3.9" fill="none" stroke-linecap="round" stroke-linejoin="round" stroke-opacity="1"/>
<path d="M786.9 2616.5L782.9 2553.5M787.6 2572.1L782.9 2553.5L780.6 2572.6" stroke="#0b80ca" stroke-width="3.9" fill="none" stroke-linecap="round" stroke-linejoin="round" stroke-opacity="1"/>
<path d="M898.1 2170.4L883.1 2247.4M881.5 2223.1L883.1 2247.4L893.8 2225.5" stroke="#0b80ca" stroke-width="3.9" fill="none" stroke-linecap="round" stroke-linejoin="round" stroke-opacity="1"/>
<path d="M898.1 2340.4L883.1 2366.4M885.6 2357.4L883.1 2366.4L889.7 2359.8" stroke="#0b80ca" stroke-width="3.9" fill="none" stroke-linecap="round" stroke-linejoin="round" stroke-opacity="1"/>
<path d="M898.1 2510.4L883.1 2489.4M888.8 2494.9L883.1 2489.4L886.5 2496.6" stroke="#0b80ca" stroke-width="3.9" fill="none" stroke-linecap="round" stroke-linejoin="round" stroke-opacity="1"/>
<path d="M898.1 2680.5L883.1 2607.5M891.7 2628.5L883.1 2607.5L883.6 2630.2" stroke="#0b80ca" stroke-width="3.9" fill="none" stroke-linecap="round" stroke-linejoin="round" stroke-opacity="1"/>
<path d="M745.9 1917.1L760.9 2024.1M747.8 1993.2L760.9 2024.1L764.9 1990.8" stroke="#0b80ca" stroke-width="3.9" fill="none" stroke-linecap="round" stroke-linejoin="round" stroke-opacity="1"/>
<path d="M745.9 2087.1L760.9 2145.1M751.7 2128.9L760.9 2145.1L761.0 2126.5" stroke="#0b80ca" stroke-width="3.9" fill="none" stroke-linecap="round" stroke-linejoin="round" stroke-opacity="1"/>
<path d="M745.9 2257.1L761.9 2265.1M756.4 2264.0L761.9 2265.1L757.7 2261.4" stroke="#0b80ca" stroke-width="3.9" fill="none" stroke-linecap="round" stroke-linejoin="round" stroke-opacity="1"/>
<path d="M745.9 2427.1L760.9 2385.1M758.7 2398.5L760.9 2385.1L754.0 2396.9" stroke="#0b80ca" stroke-width="3.9" fill="none" stroke-linecap="round" stroke-linejoin="round" stroke-opacity="1"/>
<path d="M857.1 1981.1L862.1 2079.1M852.8 2050.1L862.1 2079.1L868.4 2049.3" stroke="#0b80ca" stroke-width="3.9" fill="none" stroke-linecap="round" stroke-linejoin="round" stroke-opacity="1"/>
<path d="M857.1 2151.1L861.1 2201.1M855.9 2186.4L861.1 2201.1L863.9 2185.8" stroke="#0b80ca" stroke-width="3.9" fill="none" stroke-linecap="round" stroke-linejoin="round" stroke-opacity="1"/>
<path d="M857.1 2321.1L859.1 2323.1M857.7 2323.4L859.1 2323.1L859.4 2321.7" stroke="#0b80ca" stroke-width="3.9" fill="none" stroke-linecap="round" stroke-linejoin="round" stroke-opacity="1"/>
<path d="M857.1 2491.1L862.1 2442.1M863.3 2457.1L862.1 2442.1L857.9 2456.5" stroke="#0b80ca" stroke-width="3.9" fill="none" stroke-linecap="round" stroke-linejoin="round" stroke-opacity="1"/>
<path d="M968.4 2045.1L962.4 2135.1M957.0 2107.6L962.4 2135.1L971.4 2108.5" stroke="#0b80ca" stroke-width="3.9" fill="none" stroke-linecap="round" stroke-linejoin="round" stroke-opacity="1"/>
<path d="M968.4 2215.1L962.4 2253.1M961.1 2241.2L962.4 2253.1L967.2 2242.2" stroke="#0b80ca" stroke-width="3.9" fill="none" stroke-linecap="round" stroke-linejoin="round" stroke-opacity="1"/>
<path d="M968.4 2385.1L961.4 2376.1M964.4 2378.1L961.4 2376.1L962.5 2379.5" stroke="#0b80ca" stroke-width="3.9" fill="none" stroke-linecap="round" stroke-linejoin="round" stroke-opacity="1"/>
<path d="M968.4 2555.1L962.4 2498.1M967.3 2514.9L962.4 2498.1L961.0 2515.5" stroke="#0b80ca" stroke-width="3.9" fill="none" stroke-linecap="round" stroke-linejoin="round" stroke-opacity="1"/>
<path d="M1079.6 2109.1L1062.6 2190.1M1061.2 2164.4L1062.6 2190.1L1074.2 2167.1" stroke="#0b80ca" stroke-width="3.9" fill="none" stroke-linecap="round" stroke-linejoin="round" stroke-opacity="1"/>
<path d="M1079.6 2279.1L1062.6 2310.1M1065.2 2299.4L1062.6 2310.1L1070.2 2302.1" stroke="#0b80ca" stroke-width="3.9" fill="none" stroke-linecap="round" stroke-linejoin="round" stroke-opacity="1"/>
<path d="M1079.6 2449.1L1061.6 2432.1M1067.9 2436.2L1061.6 2432.1L1066.1 2438.2" stroke="#0b80ca" stroke-width="3.9" fill="none" stroke-linecap="round" stroke-linejoin="round" stroke-opacity="1"/>
<path d="M1079.6 2619.1L1062.6 2553.1M1071.3 2572.0L1062.6 2553.1L1064.1 2573.9" stroke="#0b80ca" stroke-width="3.9" fill="none" stroke-linecap="round" stroke-linejoin="round" stroke-opacity="1"/>
<path d="M927.3 1855.7L940.3 1966.7M927.5 1934.5L940.3 1966.7L945.3 1932.4" stroke="#0b80ca" stroke-width="3.9" fill="none" stroke-linecap="round" stroke-linejoin="round" stroke-opacity="1"/>
<path d="M927.3 2025.8L942.3 2086.8M932.9 2069.7L942.3 2086.8L942.7 2067.3" stroke="#0b80ca" stroke-width="3.9" fill="none" stroke-linecap="round" stroke-linejoin="round" stroke-opacity="1"/>
<path d="M927.3 2195.8L942.3 2208.8M936.8 2206.1L942.3 2208.8L938.9 2203.7" stroke="#0b80ca" stroke-width="3.9" fill="none" stroke-linecap="round" stroke-linejoin="round" stroke-opacity="1"/>
<path d="M927.3 2365.8L942.3 2328.8M939.9 2340.7L942.3 2328.8L935.8 2339.1" stroke="#0b80ca" stroke-width="3.9" fill="none" stroke-linecap="round" stroke-linejoin="round" stroke-opacity="1"/>
<path d="M1038.6 1919.7L1041.6 2021.7M1032.5 1991.4L1041.6 2021.7L1048.8 1990.9" stroke="#0b80ca" stroke-width="3.9" fill="none" stroke-linecap="round" stroke-linejoin="round" stroke-opacity="1"/>
<path d="M1038.6 2089.8L1041.6 2142.8M1036.4 2127.1L1041.6 2142.8L1044.9 2126.6" stroke="#0b80ca" stroke-width="3.9" fill="none" stroke-linecap="round" stroke-linejoin="round" stroke-opacity="1"/>
<path d="M1038.6 2259.8L1041.6 2264.8M1039.6 2263.9L1041.6 2264.8L1041.7 2262.7" stroke="#0b80ca" stroke-width="3.9" fill="none" stroke-linecap="round" stroke-linejoin="round" stroke-opacity="1"/>
<path d="M1038.6 2429.8L1041.6 2381.8M1043.3 2396.4L1041.6 2381.8L1038.0 2396.0" stroke="#0b80ca" stroke-width="3.9" fill="none" stroke-linecap="round" stroke-linejoin="round" stroke-opacity="1"/>
<path d="M1149.8 1983.7L1142.8 2077.7M1137.4 2049.0L1142.8 2077.7L1152.4 2050.1" stroke="#0b80ca" stroke-width="3.9" fill="none" stroke-linecap="round" stroke-linejoin="round" stroke-opacity="1"/>
<path d="M1149.8 2153.8L1142.8 2196.8M1141.5 2183.3L1142.8 2196.8L1148.4 2184.4" stroke="#0b80ca" stroke-width="3.9" fill="none" stroke-linecap="round" stroke-linejoin="round" stroke-opacity="1"/>
<path d="M1149.8 2323.8L1142.8 2317.8M1145.7 2318.7L1142.8 2317.8L1144.1 2320.5" stroke="#0b80ca" stroke-width="3.9" fill="none" stroke-linecap="round" stroke-linejoin="round" stroke-opacity="1"/>
<path d="M1149.8 2493.8L1142.8 2439.8M1147.9 2455.6L1142.8 2439.8L1142.0 2456.4" stroke="#0b80ca" stroke-width="3.9" fill="none" stroke-linecap="round" stroke-linejoin="round" stroke-opacity="1"/>
<path d="M1261.1 2047.7L1243.1 2133.7M1241.6 2106.5L1243.1 2133.7L1255.4 2109.4" stroke="#0b80ca" stroke-width="3.9" fill="none" stroke-linecap="round" stroke-linejoin="round" stroke-opacity="1"/>
<path d="M1261.1 2217.8L1243.1 2251.8M1245.8 2240.1L1243.1 2251.8L1251.2 2243.0" stroke="#0b80ca" stroke-width="3.9" fill="none" stroke-linecap="round" stroke-linejoin="round" stroke-opacity="1"/>
<path d="M1261.1 2387.8L1243.1 2372.8M1249.3 2376.3L1243.1 2372.8L1247.7 2378.3" stroke="#0b80ca" stroke-width="3.9" fill="none" stroke-linecap="round" stroke-linejoin="round" stroke-opacity="1"/>
<path d="M1261.1 2557.8L1244.1 2494.8M1252.6 2512.8L1244.1 2494.8L1245.7 2514.6" stroke="#0b80ca" stroke-width="3.9" fill="none" stroke-linecap="round" stroke-linejoin="round" stroke-opacity="1"/>
<path d="M382.9 2039.7L290.9 2070.7M317.6 2058.7L290.9 2070.7L319.4 2064.2" stroke="#fa5a27" stroke-width="2.7" fill="none" stroke-linecap="round" stroke-linejoin="round" stroke-opacity="1"/>
<path d="M382.9 2209.8L320.9 2246.8M338.4 2233.8L320.9 2246.8L340.6 2237.5" stroke="#fa5a27" stroke-width="2.7" fill="none" stroke-linecap="round" stroke-linejoin="round" stroke-opacity="1"/>
<path d="M382.9 2379.8L330.9 2409.8M345.6 2399.2L330.9 2409.8L347.4 2402.3" stroke="#fa5a27" stroke-width="2.7" fill="none" stroke-linecap="round" stroke-linejoin="round" stroke-opacity="1"/>
<path d="M382.9 2549.8L322.9 2562.8M340.5 2557.1L322.9 2562.8L341.3 2560.7" stroke="#fa5a27" stroke-width="2.7" fill="none" stroke-linecap="round" stroke-linejoin="round" stroke-opacity="1"/>
<path d="M494.2 2103.7L465.2 2087.7M474.5 2091.5L465.2 2087.7L473.3 2093.6" stroke="#fa5a27" stroke-width="2.7" fill="none" stroke-linecap="round" stroke-linejoin="round" stroke-opacity="1"/>
<path d="M494.2 2273.8L484.2 2269.8M487.6 2269.8L484.2 2269.8L486.7 2272.1" stroke="#fa5a27" stroke-width="2.7" fill="none" stroke-linecap="round" stroke-linejoin="round" stroke-opacity="1"/>
<path d="M494.2 2443.8L491.2 2444.8M491.7 2443.3L491.2 2444.8L492.5 2445.6" stroke="#fa5a27" stroke-width="2.7" fill="none" stroke-linecap="round" stroke-linejoin="round" stroke-opacity="1"/>
<path d="M494.2 2613.8L499.2 2616.8M497.1 2616.9L499.2 2616.8L498.3 2614.9" stroke="#fa5a27" stroke-width="2.7" fill="none" stroke-linecap="round" stroke-linejoin="round" stroke-opacity="1"/>
<path d="M605.4 2167.7L582.4 2147.7M590.1 2152.8L582.4 2147.7L588.5 2154.6" stroke="#fa5a27" stroke-width="2.7" fill="none" stroke-linecap="round" stroke-linejoin="round" stroke-opacity="1"/>
<path d="M605.4 2337.8L590.4 2316.8M595.9 2322.4L590.4 2316.8L594.0 2323.7" stroke="#fa5a27" stroke-width="2.7" fill="none" stroke-linecap="round" stroke-linejoin="round" stroke-opacity="1"/>
<path d="M605.4 2507.8L601.4 2491.8M603.8 2496.3L601.4 2491.8L601.5 2496.9" stroke="#fa5a27" stroke-width="2.7" fill="none" stroke-linecap="round" stroke-linejoin="round" stroke-opacity="1"/>
<path d="M605.4 2677.8L617.4 2669.8M614.5 2673.2L617.4 2669.8L613.2 2671.2" stroke="#fa5a27" stroke-width="2.7" fill="none" stroke-linecap="round" stroke-linejoin="round" stroke-opacity="1"/>
<path d="M716.7 2231.7L770.7 2218.7M754.9 2224.3L770.7 2218.7L754.1 2221.0" stroke="#fa5a27" stroke-width="2.7" fill="none" stroke-linecap="round" stroke-linejoin="round" stroke-opacity="1"/>
<path d="M716.7 2401.8L766.7 2366.8M752.7 2378.8L766.7 2366.8L750.6 2375.8" stroke="#fa5a27" stroke-width="2.7" fill="none" stroke-linecap="round" stroke-linejoin="round" stroke-opacity="1"/>
<path d="M716.7 2571.8L776.7 2523.8M760.1 2540.0L776.7 2523.8L757.2 2536.4" stroke="#fa5a27" stroke-width="2.7" fill="none" stroke-linecap="round" stroke-linejoin="round" stroke-opacity="1"/>
<path d="M716.7 2741.8L804.7 2689.8M779.8 2708.0L804.7 2689.8L776.7 2702.7" stroke="#fa5a27" stroke-width="2.7" fill="none" stroke-linecap="round" stroke-linejoin="round" stroke-opacity="1"/>
<path d="M564.4 1978.4L460.4 2009.4M490.7 1997.0L460.4 2009.4L492.5 2003.2" stroke="#fa5a27" stroke-width="2.7" fill="none" stroke-linecap="round" stroke-linejoin="round" stroke-opacity="1"/>
<path d="M564.4 2148.4L482.4 2173.4M506.2 2163.5L482.4 2173.4L507.7 2168.4" stroke="#fa5a27" stroke-width="2.7" fill="none" stroke-linecap="round" stroke-linejoin="round" stroke-opacity="1"/>
<path d="M564.4 2318.4L485.4 2332.4M508.7 2325.9L485.4 2332.4L509.5 2330.6" stroke="#fa5a27" stroke-width="2.7" fill="none" stroke-linecap="round" stroke-linejoin="round" stroke-opacity="1"/>
<path d="M564.4 2488.5L470.4 2479.5M498.9 2479.3L470.4 2479.5L498.3 2485.0" stroke="#fa5a27" stroke-width="2.7" fill="none" stroke-linecap="round" stroke-linejoin="round" stroke-opacity="1"/>
<path d="M675.6 2042.4L655.6 2039.4M661.8 2039.1L655.6 2039.4L661.5 2041.5" stroke="#fa5a27" stroke-width="2.7" fill="none" stroke-linecap="round" stroke-linejoin="round" stroke-opacity="1"/>
<path d="M675.6 2212.4L666.6 2212.4M669.3 2211.2L666.6 2212.4L669.3 2213.6" stroke="#fa5a27" stroke-width="2.7" fill="none" stroke-linecap="round" stroke-linejoin="round" stroke-opacity="1"/>
<path d="M675.6 2382.4L668.6 2385.4M670.3 2383.4L668.6 2385.4L671.2 2385.6" stroke="#fa5a27" stroke-width="2.7" fill="none" stroke-linecap="round" stroke-linejoin="round" stroke-opacity="1"/>
<path d="M675.6 2552.5L667.6 2553.5M669.9 2552.0L667.6 2553.5L670.2 2554.3" stroke="#fa5a27" stroke-width="2.7" fill="none" stroke-linecap="round" stroke-linejoin="round" stroke-opacity="1"/>
<path d="M786.9 2106.4L793.9 2105.4M792.0 2106.9L793.9 2105.4L791.6 2104.5" stroke="#fa5a27" stroke-width="2.7" fill="none" stroke-linecap="round" stroke-linejoin="round" stroke-opacity="1"/>
<path d="M786.9 2276.4L792.9 2272.4M791.8 2274.6L792.9 2272.4L790.4 2272.6" stroke="#fa5a27" stroke-width="2.7" fill="none" stroke-linecap="round" stroke-linejoin="round" stroke-opacity="1"/>
<path d="M786.9 2446.4L794.9 2443.4M792.9 2445.5L794.9 2443.4L792.1 2443.2" stroke="#fa5a27" stroke-width="2.7" fill="none" stroke-linecap="round" stroke-linejoin="round" stroke-opacity="1"/>
<path d="M786.9 2616.5L803.9 2615.5M798.9 2617.0L803.9 2615.5L798.7 2614.6" stroke="#fa5a27" stroke-width="2.7" fill="none" stroke-linecap="round" stroke-linejoin="round" stroke-opacity="1"/>
<path d="M898.1 2170.4L994.1 2175.4M965.2 2176.8L994.1 2175.4L965.5 2171.0" stroke="#fa5a27" stroke-width="2.7" fill="none" stroke-linecap="round" stroke-linejoin="round" stroke-opacity="1"/>
<path d="M898.1 2340.4L980.1 2321.4M956.1 2329.6L980.1 2321.4L955.0 2324.7" stroke="#fa5a27" stroke-width="2.7" fill="none" stroke-linecap="round" stroke-linejoin="round" stroke-opacity="1"/>
<path d="M898.1 2510.4L983.1 2475.4M958.7 2488.5L983.1 2475.4L956.6 2483.4" stroke="#fa5a27" stroke-width="2.7" fill="none" stroke-linecap="round" stroke-linejoin="round" stroke-opacity="1"/>
<path d="M898.1 2680.5L1003.1 2639.5M972.9 2654.9L1003.1 2639.5L970.4 2648.6" stroke="#fa5a27" stroke-width="2.7" fill="none" stroke-linecap="round" stroke-linejoin="round" stroke-opacity="1"/>
<path d="M745.9 1917.1L649.9 1936.1M678.1 1927.5L649.9 1936.1L679.2 1933.2" stroke="#fa5a27" stroke-width="2.7" fill="none" stroke-linecap="round" stroke-linejoin="round" stroke-opacity="1"/>
<path d="M745.9 2087.1L662.9 2097.1M687.5 2091.6L662.9 2097.1L688.1 2096.6" stroke="#fa5a27" stroke-width="2.7" fill="none" stroke-linecap="round" stroke-linejoin="round" stroke-opacity="1"/>
<path d="M745.9 2257.1L659.9 2246.1M686.0 2246.8L659.9 2246.1L685.3 2252.0" stroke="#fa5a27" stroke-width="2.7" fill="none" stroke-linecap="round" stroke-linejoin="round" stroke-opacity="1"/>
<path d="M745.9 2427.1L638.9 2387.1M672.6 2394.8L638.9 2387.1L669.4 2403.4" stroke="#fa5a27" stroke-width="2.7" fill="none" stroke-linecap="round" stroke-linejoin="round" stroke-opacity="1"/>
<path d="M857.1 1981.1L848.1 1981.1M850.8 1979.9L848.1 1981.1L850.8 1982.3" stroke="#fa5a27" stroke-width="2.7" fill="none" stroke-linecap="round" stroke-linejoin="round" stroke-opacity="1"/>
<path d="M857.1 2151.1L851.1 2150.1M853.1 2149.2L851.1 2150.1L852.7 2151.6" stroke="#fa5a27" stroke-width="2.7" fill="none" stroke-linecap="round" stroke-linejoin="round" stroke-opacity="1"/>
<path d="M857.1 2321.1L847.1 2318.1M850.5 2317.9L847.1 2318.1L849.8 2320.2" stroke="#fa5a27" stroke-width="2.7" fill="none" stroke-linecap="round" stroke-linejoin="round" stroke-opacity="1"/>
<path d="M857.1 2491.1L838.1 2480.1M844.4 2482.4L838.1 2480.1L843.2 2484.5" stroke="#fa5a27" stroke-width="2.7" fill="none" stroke-linecap="round" stroke-linejoin="round" stroke-opacity="1"/>
<path d="M968.4 2045.1L987.4 2056.1M981.1 2053.8L987.4 2056.1L982.3 2051.7" stroke="#fa5a27" stroke-width="2.7" fill="none" stroke-linecap="round" stroke-linejoin="round" stroke-opacity="1"/>
<path d="M968.4 2215.1L975.4 2217.1M972.9 2217.6L975.4 2217.1L973.6 2215.3" stroke="#fa5a27" stroke-width="2.7" fill="none" stroke-linecap="round" stroke-linejoin="round" stroke-opacity="1"/>
<path d="M968.4 2385.1L972.4 2387.1M970.6 2387.6L972.4 2387.1L971.7 2385.4" stroke="#fa5a27" stroke-width="2.7" fill="none" stroke-linecap="round" stroke-linejoin="round" stroke-opacity="1"/>
<path d="M968.4 2555.1L975.4 2556.1M973.1 2557.0L975.4 2556.1L973.4 2554.6" stroke="#fa5a27" stroke-width="2.7" fill="none" stroke-linecap="round" stroke-linejoin="round" stroke-opacity="1"/>
<path d="M1079.6 2109.1L1182.6 2129.1M1151.1 2126.2L1182.6 2129.1L1152.3 2120.0" stroke="#fa5a27" stroke-width="2.7" fill="none" stroke-linecap="round" stroke-linejoin="round" stroke-opacity="1"/>
<path d="M1079.6 2279.1L1161.6 2271.1M1137.3 2275.9L1161.6 2271.1L1136.8 2271.0" stroke="#fa5a27" stroke-width="2.7" fill="none" stroke-linecap="round" stroke-linejoin="round" stroke-opacity="1"/>
<path d="M1079.6 2449.1L1161.6 2419.1M1137.9 2430.6L1161.6 2419.1L1136.1 2425.6" stroke="#fa5a27" stroke-width="2.7" fill="none" stroke-linecap="round" stroke-linejoin="round" stroke-opacity="1"/>
<path d="M1079.6 2619.1L1172.6 2585.1M1145.7 2598.1L1172.6 2585.1L1143.7 2592.5" stroke="#fa5a27" stroke-width="2.7" fill="none" stroke-linecap="round" stroke-linejoin="round" stroke-opacity="1"/>
<path d="M927.3 1855.7L872.3 1858.7M888.7 1856.2L872.3 1858.7L888.9 1859.5" stroke="#fa5a27" stroke-width="2.7" fill="none" stroke-linecap="round" stroke-linejoin="round" stroke-opacity="1"/>
<path d="M927.3 2025.8L877.3 2011.8M892.7 2014.5L877.3 2011.8L891.9 2017.5" stroke="#fa5a27" stroke-width="2.7" fill="none" stroke-linecap="round" stroke-linejoin="round" stroke-opacity="1"/>
<path d="M927.3 2195.8L865.3 2156.8M885.1 2166.6L865.3 2156.8L882.7 2170.3" stroke="#fa5a27" stroke-width="2.7" fill="none" stroke-linecap="round" stroke-linejoin="round" stroke-opacity="1"/>
<path d="M927.3 2365.8L840.3 2294.8M873.5 2307.4L840.3 2294.8L859.3 2324.8" stroke="#fa5a27" stroke-width="2.7" fill="none" stroke-linecap="round" stroke-linejoin="round" stroke-opacity="1"/>
<path d="M1038.6 1919.7L1060.6 1917.7M1054.1 1919.5L1060.6 1917.7L1053.9 1917.1" stroke="#fa5a27" stroke-width="2.7" fill="none" stroke-linecap="round" stroke-linejoin="round" stroke-opacity="1"/>
<path d="M1038.6 2089.8L1052.6 2082.8M1048.9 2085.9L1052.6 2082.8L1047.8 2083.8" stroke="#fa5a27" stroke-width="2.7" fill="none" stroke-linecap="round" stroke-linejoin="round" stroke-opacity="1"/>
<path d="M1038.6 2259.8L1040.6 2243.8M1041.2 2248.7L1040.6 2243.8L1038.8 2248.4" stroke="#fa5a27" stroke-width="2.7" fill="none" stroke-linecap="round" stroke-linejoin="round" stroke-opacity="1"/>
<path d="M1038.6 2429.8L1025.6 2401.8M1030.6 2409.7L1025.6 2401.8L1028.4 2410.7" stroke="#fa5a27" stroke-width="2.7" fill="none" stroke-linecap="round" stroke-linejoin="round" stroke-opacity="1"/>
<path d="M1149.8 1983.7L1177.8 2001.7M1168.8 1997.3L1177.8 2001.7L1170.1 1995.3" stroke="#fa5a27" stroke-width="2.7" fill="none" stroke-linecap="round" stroke-linejoin="round" stroke-opacity="1"/>
<path d="M1149.8 2153.8L1158.8 2158.8M1155.5 2158.3L1158.8 2158.8L1156.7 2156.2" stroke="#fa5a27" stroke-width="2.7" fill="none" stroke-linecap="round" stroke-linejoin="round" stroke-opacity="1"/>
<path d="M1149.8 2323.8L1151.8 2324.8M1150.7 2325.5L1151.8 2324.8L1151.8 2323.4" stroke="#fa5a27" stroke-width="2.7" fill="none" stroke-linecap="round" stroke-linejoin="round" stroke-opacity="1"/>
<path d="M1149.8 2493.8L1143.8 2491.8M1146.0 2491.2L1143.8 2491.8L1145.2 2493.5" stroke="#fa5a27" stroke-width="2.7" fill="none" stroke-linecap="round" stroke-linejoin="round" stroke-opacity="1"/>
<path d="M1261.1 2047.7L1353.1 2078.7M1324.5 2072.2L1353.1 2078.7L1326.4 2066.7" stroke="#fa5a27" stroke-width="2.7" fill="none" stroke-linecap="round" stroke-linejoin="round" stroke-opacity="1"/>
<path d="M1261.1 2217.8L1322.1 2217.8M1303.8 2219.6L1322.1 2217.8L1303.8 2215.9" stroke="#fa5a27" stroke-width="2.7" fill="none" stroke-linecap="round" stroke-linejoin="round" stroke-opacity="1"/>
<path d="M1261.1 2387.8L1311.1 2367.8M1296.7 2375.3L1311.1 2367.8L1295.5 2372.3" stroke="#fa5a27" stroke-width="2.7" fill="none" stroke-linecap="round" stroke-linejoin="round" stroke-opacity="1"/>
<path d="M1261.1 2557.8L1320.1 2528.8M1303.2 2539.3L1320.1 2528.8L1301.5 2535.7" stroke="#fa5a27" stroke-width="2.7" fill="none" stroke-linecap="round" stroke-linejoin="round" stroke-opacity="1"/>
<path d="M382.9 2039.7L499.9 1999.7M466.0 2015.2L499.9 1999.7L463.6 2008.2" stroke="#fdb42c" stroke-width="2.7" fill="none" stroke-linecap="round" stroke-linejoin="round" stroke-opacity="1"/>
<path d="M382.9 2209.8L498.9 2181.8M465.0 2193.6L498.9 2181.8L463.3 2186.7" stroke="#fdb42c" stroke-width="2.7" fill="none" stroke-linecap="round" stroke-linejoin="round" stroke-opacity="1"/>
<path d="M382.9 2379.8L499.9 2362.8M465.3 2371.4L499.9 2362.8L464.3 2364.4" stroke="#fdb42c" stroke-width="2.7" fill="none" stroke-linecap="round" stroke-linejoin="round" stroke-opacity="1"/>
<path d="M382.9 2549.8L499.9 2545.8M464.9 2550.5L499.9 2545.8L464.7 2543.5" stroke="#fdb42c" stroke-width="2.7" fill="none" stroke-linecap="round" stroke-linejoin="round" stroke-opacity="1"/>
<path d="M494.2 2103.7L552.2 2082.7M535.4 2090.8L552.2 2082.7L534.1 2087.3" stroke="#fdb42c" stroke-width="2.7" fill="none" stroke-linecap="round" stroke-linejoin="round" stroke-opacity="1"/>
<path d="M494.2 2273.8L553.2 2265.8M535.7 2269.9L553.2 2265.8L535.2 2266.4" stroke="#fdb42c" stroke-width="2.7" fill="none" stroke-linecap="round" stroke-linejoin="round" stroke-opacity="1"/>
<path d="M494.2 2443.8L553.2 2446.8M535.4 2447.6L553.2 2446.8L535.6 2444.1" stroke="#fdb42c" stroke-width="2.7" fill="none" stroke-linecap="round" stroke-linejoin="round" stroke-opacity="1"/>
<path d="M494.2 2613.8L552.2 2626.8M534.4 2624.6L552.2 2626.8L535.2 2621.1" stroke="#fdb42c" stroke-width="2.7" fill="none" stroke-linecap="round" stroke-linejoin="round" stroke-opacity="1"/>
<path d="M605.4 2167.7L608.4 2164.7M608.4 2166.5L608.4 2164.7L606.7 2164.8" stroke="#fdb42c" stroke-width="2.7" fill="none" stroke-linecap="round" stroke-linejoin="round" stroke-opacity="1"/>
<path d="M605.4 2337.8L606.4 2342.8M604.9 2341.5L606.4 2342.8L607.3 2341.0" stroke="#fdb42c" stroke-width="2.7" fill="none" stroke-linecap="round" stroke-linejoin="round" stroke-opacity="1"/>
<path d="M605.4 2507.8L608.4 2528.8M606.3 2522.6L608.4 2528.8L608.7 2522.3" stroke="#fdb42c" stroke-width="2.7" fill="none" stroke-linecap="round" stroke-linejoin="round" stroke-opacity="1"/>
<path d="M605.4 2677.8L605.4 2710.8M604.2 2700.9L605.4 2710.8L606.6 2700.9" stroke="#fdb42c" stroke-width="2.7" fill="none" stroke-linecap="round" stroke-linejoin="round" stroke-opacity="1"/>
<path d="M716.7 2231.7L657.7 2248.7M674.9 2241.9L657.7 2248.7L675.9 2245.4" stroke="#fdb42c" stroke-width="2.7" fill="none" stroke-linecap="round" stroke-linejoin="round" stroke-opacity="1"/>
<path d="M716.7 2401.8L659.7 2429.8M675.9 2419.6L659.7 2429.8L677.6 2423.1" stroke="#fdb42c" stroke-width="2.7" fill="none" stroke-linecap="round" stroke-linejoin="round" stroke-opacity="1"/>
<path d="M716.7 2571.8L658.7 2613.8M674.8 2599.4L658.7 2613.8L677.3 2602.9" stroke="#fdb42c" stroke-width="2.7" fill="none" stroke-linecap="round" stroke-linejoin="round" stroke-opacity="1"/>
<path d="M716.7 2741.8L658.7 2793.8M674.5 2776.4L658.7 2793.8L677.6 2779.9" stroke="#fdb42c" stroke-width="2.7" fill="none" stroke-linecap="round" stroke-linejoin="round" stroke-opacity="1"/>
<path d="M564.4 1978.4L664.4 1936.4M635.6 1952.0L664.4 1936.4L633.1 1946.0" stroke="#fdb42c" stroke-width="2.7" fill="none" stroke-linecap="round" stroke-linejoin="round" stroke-opacity="1"/>
<path d="M564.4 2148.4L661.4 2120.4M633.1 2131.7L661.4 2120.4L631.4 2125.9" stroke="#fdb42c" stroke-width="2.7" fill="none" stroke-linecap="round" stroke-linejoin="round" stroke-opacity="1"/>
<path d="M564.4 2318.4L661.4 2301.4M632.8 2309.4L661.4 2301.4L631.8 2303.6" stroke="#fdb42c" stroke-width="2.7" fill="none" stroke-linecap="round" stroke-linejoin="round" stroke-opacity="1"/>
<path d="M564.4 2488.5L661.4 2482.5M632.5 2487.2L661.4 2482.5L632.1 2481.3" stroke="#fdb42c" stroke-width="2.7" fill="none" stroke-linecap="round" stroke-linejoin="round" stroke-opacity="1"/>
<path d="M675.6 2042.4L715.6 2019.4M704.3 2027.5L715.6 2019.4L702.9 2025.1" stroke="#fdb42c" stroke-width="2.7" fill="none" stroke-linecap="round" stroke-linejoin="round" stroke-opacity="1"/>
<path d="M675.6 2212.4L714.6 2201.4M703.3 2205.9L714.6 2201.4L702.6 2203.5" stroke="#fdb42c" stroke-width="2.7" fill="none" stroke-linecap="round" stroke-linejoin="round" stroke-opacity="1"/>
<path d="M675.6 2382.4L714.6 2385.4M702.8 2385.7L714.6 2385.4L703.0 2383.3" stroke="#fdb42c" stroke-width="2.7" fill="none" stroke-linecap="round" stroke-linejoin="round" stroke-opacity="1"/>
<path d="M675.6 2552.5L715.6 2569.5M703.1 2565.6L715.6 2569.5L704.1 2563.2" stroke="#fdb42c" stroke-width="2.7" fill="none" stroke-linecap="round" stroke-linejoin="round" stroke-opacity="1"/>
<path d="M786.9 2106.4L766.9 2103.4M773.1 2103.1L766.9 2103.4L772.7 2105.5" stroke="#fdb42c" stroke-width="2.7" fill="none" stroke-linecap="round" stroke-linejoin="round" stroke-opacity="1"/>
<path d="M786.9 2276.4L766.9 2285.4M772.4 2281.6L766.9 2285.4L773.4 2283.8" stroke="#fdb42c" stroke-width="2.7" fill="none" stroke-linecap="round" stroke-linejoin="round" stroke-opacity="1"/>
<path d="M786.9 2446.4L767.9 2467.4M772.7 2460.3L767.9 2467.4L774.5 2461.9" stroke="#fdb42c" stroke-width="2.7" fill="none" stroke-linecap="round" stroke-linejoin="round" stroke-opacity="1"/>
<path d="M786.9 2616.5L767.9 2649.5M772.6 2639.0L767.9 2649.5L774.6 2640.2" stroke="#fdb42c" stroke-width="2.7" fill="none" stroke-linecap="round" stroke-linejoin="round" stroke-opacity="1"/>
<path d="M898.1 2170.4L820.1 2184.4M843.1 2177.9L820.1 2184.4L844.0 2182.5" stroke="#fdb42c" stroke-width="2.7" fill="none" stroke-linecap="round" stroke-linejoin="round" stroke-opacity="1"/>
<path d="M898.1 2340.4L822.1 2366.4M844.2 2356.3L822.1 2366.4L845.7 2360.9" stroke="#fdb42c" stroke-width="2.7" fill="none" stroke-linecap="round" stroke-linejoin="round" stroke-opacity="1"/>
<path d="M898.1 2510.4L822.1 2548.4M843.8 2534.8L822.1 2548.4L846.1 2539.3" stroke="#fdb42c" stroke-width="2.7" fill="none" stroke-linecap="round" stroke-linejoin="round" stroke-opacity="1"/>
<path d="M898.1 2680.5L822.1 2731.5M843.4 2713.9L822.1 2731.5L846.5 2718.4" stroke="#fdb42c" stroke-width="2.7" fill="none" stroke-linecap="round" stroke-linejoin="round" stroke-opacity="1"/>
<path d="M745.9 1917.1L822.9 1875.1M801.0 1890.0L822.9 1875.1L798.5 1885.4" stroke="#fdb42c" stroke-width="2.7" fill="none" stroke-linecap="round" stroke-linejoin="round" stroke-opacity="1"/>
<path d="M745.9 2087.1L822.9 2056.1M800.7 2067.7L822.9 2056.1L798.8 2063.1" stroke="#fdb42c" stroke-width="2.7" fill="none" stroke-linecap="round" stroke-linejoin="round" stroke-opacity="1"/>
<path d="M745.9 2257.1L822.9 2239.1M800.3 2246.8L822.9 2239.1L799.2 2242.2" stroke="#fdb42c" stroke-width="2.7" fill="none" stroke-linecap="round" stroke-linejoin="round" stroke-opacity="1"/>
<path d="M745.9 2427.1L822.9 2421.1M799.9 2425.2L822.9 2421.1L799.6 2420.6" stroke="#fdb42c" stroke-width="2.7" fill="none" stroke-linecap="round" stroke-linejoin="round" stroke-opacity="1"/>
<path d="M857.1 1981.1L877.1 1957.1M872.0 1965.0L877.1 1957.1L870.2 1963.5" stroke="#fdb42c" stroke-width="2.7" fill="none" stroke-linecap="round" stroke-linejoin="round" stroke-opacity="1"/>
<path d="M857.1 2151.1L877.1 2139.1M871.7 2143.7L877.1 2139.1L870.5 2141.7" stroke="#fdb42c" stroke-width="2.7" fill="none" stroke-linecap="round" stroke-linejoin="round" stroke-opacity="1"/>
<path d="M857.1 2321.1L873.1 2321.1M868.3 2322.3L873.1 2321.1L868.3 2319.9" stroke="#fdb42c" stroke-width="2.7" fill="none" stroke-linecap="round" stroke-linejoin="round" stroke-opacity="1"/>
<path d="M857.1 2491.1L877.1 2505.1M870.4 2501.9L877.1 2505.1L871.8 2499.9" stroke="#fdb42c" stroke-width="2.7" fill="none" stroke-linecap="round" stroke-linejoin="round" stroke-opacity="1"/>
<path d="M968.4 2045.1L930.4 2042.1M941.9 2041.8L930.4 2042.1L941.7 2044.2" stroke="#fdb42c" stroke-width="2.7" fill="none" stroke-linecap="round" stroke-linejoin="round" stroke-opacity="1"/>
<path d="M968.4 2215.1L928.4 2220.1M940.2 2217.4L928.4 2220.1L940.5 2219.8" stroke="#fdb42c" stroke-width="2.7" fill="none" stroke-linecap="round" stroke-linejoin="round" stroke-opacity="1"/>
<path d="M968.4 2385.1L928.4 2405.1M939.8 2397.9L928.4 2405.1L941.0 2400.3" stroke="#fdb42c" stroke-width="2.7" fill="none" stroke-linecap="round" stroke-linejoin="round" stroke-opacity="1"/>
<path d="M968.4 2555.1L928.4 2587.1M939.4 2576.3L928.4 2587.1L941.3 2578.7" stroke="#fdb42c" stroke-width="2.7" fill="none" stroke-linecap="round" stroke-linejoin="round" stroke-opacity="1"/>
<path d="M1079.6 2109.1L982.6 2123.1M1011.3 2116.0L982.6 2123.1L1012.1 2121.8" stroke="#fdb42c" stroke-width="2.7" fill="none" stroke-linecap="round" stroke-linejoin="round" stroke-opacity="1"/>
<path d="M1079.6 2279.1L982.6 2305.1M1010.9 2294.4L982.6 2305.1L1012.5 2300.2" stroke="#fdb42c" stroke-width="2.7" fill="none" stroke-linecap="round" stroke-linejoin="round" stroke-opacity="1"/>
<path d="M1079.6 2449.1L982.6 2487.1M1010.6 2472.8L982.6 2487.1L1012.9 2478.6" stroke="#fdb42c" stroke-width="2.7" fill="none" stroke-linecap="round" stroke-linejoin="round" stroke-opacity="1"/>
<path d="M1079.6 2619.1L982.6 2668.1M1010.2 2650.5L982.6 2668.1L1013.2 2656.3" stroke="#fdb42c" stroke-width="2.7" fill="none" stroke-linecap="round" stroke-linejoin="round" stroke-opacity="1"/>
<path d="M927.3 1855.7L983.3 1811.7M967.8 1826.6L983.3 1811.7L965.2 1823.3" stroke="#fdb42c" stroke-width="2.7" fill="none" stroke-linecap="round" stroke-linejoin="round" stroke-opacity="1"/>
<path d="M927.3 2025.8L983.3 1994.8M967.4 2005.7L983.3 1994.8L965.6 2002.4" stroke="#fdb42c" stroke-width="2.7" fill="none" stroke-linecap="round" stroke-linejoin="round" stroke-opacity="1"/>
<path d="M927.3 2195.8L978.3 2177.8M963.6 2184.7L978.3 2177.8L962.5 2181.6" stroke="#fdb42c" stroke-width="2.7" fill="none" stroke-linecap="round" stroke-linejoin="round" stroke-opacity="1"/>
<path d="M927.3 2365.8L983.3 2358.8M966.7 2362.6L983.3 2358.8L966.3 2359.2" stroke="#fdb42c" stroke-width="2.7" fill="none" stroke-linecap="round" stroke-linejoin="round" stroke-opacity="1"/>
<path d="M1038.6 1919.7L1036.6 1894.7M1038.4 1902.1L1036.6 1894.7L1036.0 1902.3" stroke="#fdb42c" stroke-width="2.7" fill="none" stroke-linecap="round" stroke-linejoin="round" stroke-opacity="1"/>
<path d="M1038.6 2089.8L1036.6 2077.8M1038.4 2081.2L1036.6 2077.8L1036.0 2081.5" stroke="#fdb42c" stroke-width="2.7" fill="none" stroke-linecap="round" stroke-linejoin="round" stroke-opacity="1"/>
<path d="M1038.6 2429.8L1037.6 2439.8M1036.7 2436.7L1037.6 2439.8L1039.1 2436.9" stroke="#fdb42c" stroke-width="2.7" fill="none" stroke-linecap="round" stroke-linejoin="round" stroke-opacity="1"/>
<path d="M1149.8 1983.7L1088.8 1978.7M1107.3 1978.4L1088.8 1978.7L1107.0 1982.1" stroke="#fdb42c" stroke-width="2.7" fill="none" stroke-linecap="round" stroke-linejoin="round" stroke-opacity="1"/>
<path d="M1149.8 2153.8L1088.8 2158.8M1107.0 2155.4L1088.8 2158.8L1107.3 2159.1" stroke="#fdb42c" stroke-width="2.7" fill="none" stroke-linecap="round" stroke-linejoin="round" stroke-opacity="1"/>
<path d="M1149.8 2323.8L1088.8 2341.8M1106.6 2334.5L1088.8 2341.8L1107.7 2338.2" stroke="#fdb42c" stroke-width="2.7" fill="none" stroke-linecap="round" stroke-linejoin="round" stroke-opacity="1"/>
<path d="M1149.8 2493.8L1088.8 2523.8M1106.2 2513.0L1088.8 2523.8L1108.0 2516.6" stroke="#fdb42c" stroke-width="2.7" fill="none" stroke-linecap="round" stroke-linejoin="round" stroke-opacity="1"/>
<path d="M1261.1 2047.7L1144.1 2061.7M1178.8 2054.0L1144.1 2061.7L1179.6 2061.0" stroke="#fdb42c" stroke-width="2.7" fill="none" stroke-linecap="round" stroke-linejoin="round" stroke-opacity="1"/>
<path d="M1261.1 2217.8L1144.1 2241.8M1178.5 2231.0L1144.1 2241.8L1179.9 2238.1" stroke="#fdb42c" stroke-width="2.7" fill="none" stroke-linecap="round" stroke-linejoin="round" stroke-opacity="1"/>
<path d="M1261.1 2387.8L1144.1 2423.8M1178.1 2409.5L1144.1 2423.8L1180.3 2416.5" stroke="#fdb42c" stroke-width="2.7" fill="none" stroke-linecap="round" stroke-linejoin="round" stroke-opacity="1"/>
<path d="M1261.1 2557.8L1145.1 2605.8M1178.4 2587.9L1145.1 2605.8L1181.3 2594.9" stroke="#fdb42c" stroke-width="2.7" fill="none" stroke-linecap="round" stroke-linejoin="round" stroke-opacity="1"/>
</g>
</g></svg></body></html>
